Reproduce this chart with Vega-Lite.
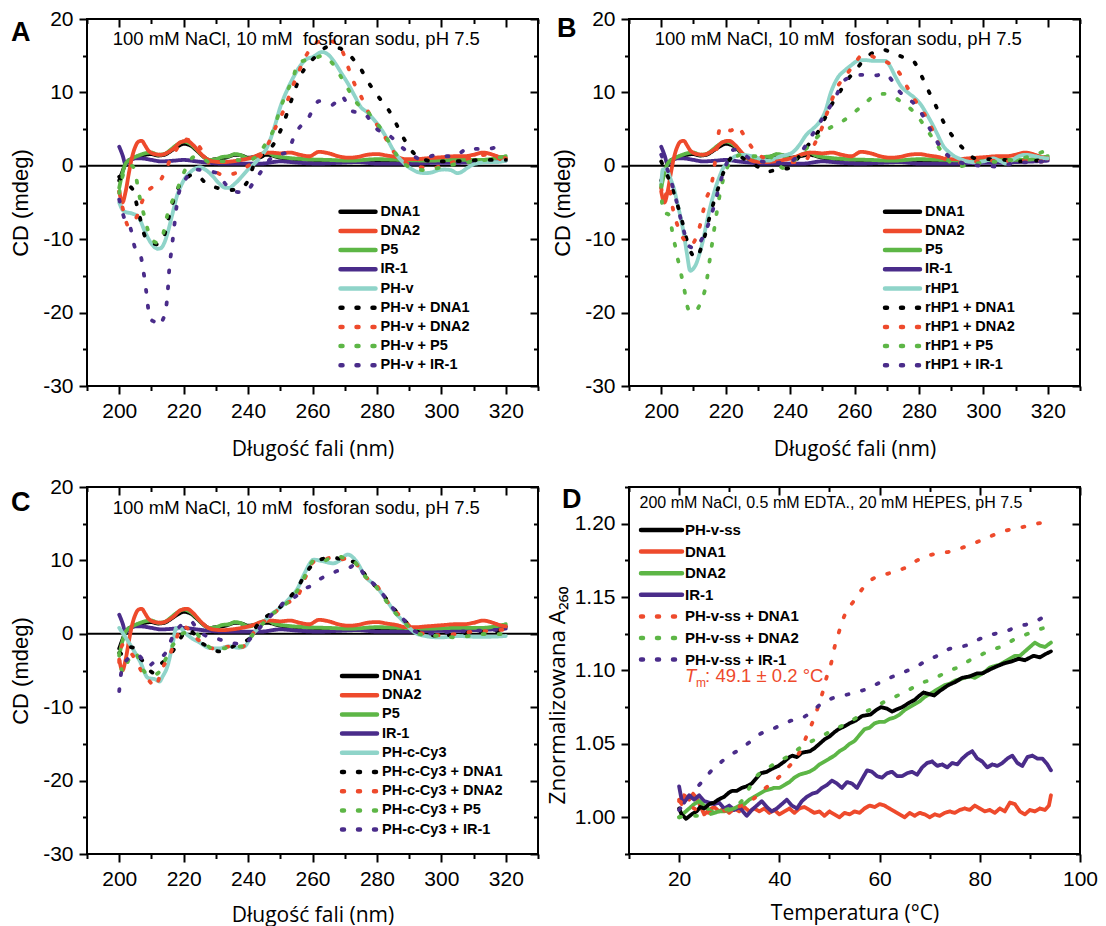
{
"$schema":"https://vega.github.io/schema/vega-lite/v6.json",
"background":"white",
"padding":{"left":8,"top":7,"right":2,"bottom":2},
"columns":2,
"spacing":{"row":101,"column":91},
"bounds":"flush",
"resolve":{"scale":{"color":"independent","strokeDash":"independent"},"legend":{"color":"independent","strokeDash":"independent"}},
"config":{
 "view":{"stroke":"black","strokeWidth":2},
 "axis":{"grid":false,"domain":false,"tickColor":"black","tickWidth":2,"labelFont":"Liberation Sans","labelFontSize":21,"labelColor":"black","labelPadding":6,"labelFlush":false,"labelOverlap":false,"titleColor":"black","titleFontWeight":"normal"}
},
"datasets":{
"ctrl":[
{"s":"DNA1","x":200,"y":-2},{"s":"DNA1","x":201,"y":-0.8},{"s":"DNA1","x":202,"y":0.3},{"s":"DNA1","x":204,"y":1},{"s":"DNA1","x":206,"y":1.3},{"s":"DNA1","x":208,"y":1.5},{"s":"DNA1","x":210,"y":1.6},{"s":"DNA1","x":212,"y":1.4},{"s":"DNA1","x":214,"y":1.5},{"s":"DNA1","x":216,"y":2},{"s":"DNA1","x":218,"y":2.6},{"s":"DNA1","x":220,"y":3},{"s":"DNA1","x":222,"y":2.8},{"s":"DNA1","x":224,"y":2.1},{"s":"DNA1","x":226,"y":1.3},{"s":"DNA1","x":228,"y":0.8},{"s":"DNA1","x":230,"y":0.9},{"s":"DNA1","x":233,"y":1.1},{"s":"DNA1","x":236,"y":1.5},{"s":"DNA1","x":238,"y":1.4},{"s":"DNA1","x":240,"y":1.1},{"s":"DNA1","x":243,"y":1.3},{"s":"DNA1","x":246,"y":1.5},{"s":"DNA1","x":250,"y":1.1},{"s":"DNA1","x":255,"y":0.9},{"s":"DNA1","x":260,"y":0.8},{"s":"DNA1","x":265,"y":0.7},{"s":"DNA1","x":270,"y":0.6},{"s":"DNA1","x":275,"y":0.6},{"s":"DNA1","x":280,"y":0.7},{"s":"DNA1","x":285,"y":0.7},{"s":"DNA1","x":290,"y":0.6},{"s":"DNA1","x":295,"y":0.5},{"s":"DNA1","x":300,"y":0.6},{"s":"DNA1","x":305,"y":0.6},{"s":"DNA1","x":310,"y":0.7},{"s":"DNA1","x":315,"y":0.7},{"s":"DNA1","x":320,"y":1},
{"s":"IR-1","x":200,"y":2.6},{"s":"IR-1","x":201,"y":1.5},{"s":"IR-1","x":202,"y":0.2},{"s":"IR-1","x":203,"y":0.6},{"s":"IR-1","x":205,"y":1},{"s":"IR-1","x":207,"y":1},{"s":"IR-1","x":210,"y":0.8},{"s":"IR-1","x":213,"y":0.6},{"s":"IR-1","x":217,"y":0.7},{"s":"IR-1","x":220,"y":0.8},{"s":"IR-1","x":224,"y":0.6},{"s":"IR-1","x":228,"y":0.4},{"s":"IR-1","x":232,"y":0.3},{"s":"IR-1","x":238,"y":0.3},{"s":"IR-1","x":244,"y":0.3},{"s":"IR-1","x":250,"y":0.6},{"s":"IR-1","x":256,"y":0.4},{"s":"IR-1","x":262,"y":0.3},{"s":"IR-1","x":268,"y":0.4},{"s":"IR-1","x":274,"y":0.5},{"s":"IR-1","x":280,"y":0.3},{"s":"IR-1","x":286,"y":0.3},{"s":"IR-1","x":292,"y":0.3},{"s":"IR-1","x":298,"y":0.4},{"s":"IR-1","x":304,"y":0.4},{"s":"IR-1","x":310,"y":0.5},{"s":"IR-1","x":316,"y":0.6},{"s":"IR-1","x":320,"y":0.7},
{"s":"P5","x":200,"y":-3},{"s":"P5","x":201,"y":-1},{"s":"P5","x":202,"y":0.3},{"s":"P5","x":204,"y":1},{"s":"P5","x":206,"y":1.4},{"s":"P5","x":208,"y":1.7},{"s":"P5","x":210,"y":1.8},{"s":"P5","x":212,"y":1.5},{"s":"P5","x":214,"y":1.6},{"s":"P5","x":216,"y":2.2},{"s":"P5","x":218,"y":2.9},{"s":"P5","x":220,"y":3.3},{"s":"P5","x":222,"y":3},{"s":"P5","x":224,"y":2.2},{"s":"P5","x":226,"y":1.3},{"s":"P5","x":228,"y":0.8},{"s":"P5","x":230,"y":0.9},{"s":"P5","x":232,"y":1.2},{"s":"P5","x":234,"y":1.3},{"s":"P5","x":236,"y":1.6},{"s":"P5","x":238,"y":1.4},{"s":"P5","x":240,"y":1},{"s":"P5","x":242,"y":1.2},{"s":"P5","x":244,"y":1.6},{"s":"P5","x":246,"y":1.8},{"s":"P5","x":248,"y":1.4},{"s":"P5","x":252,"y":1.1},{"s":"P5","x":258,"y":0.9},{"s":"P5","x":265,"y":0.8},{"s":"P5","x":272,"y":0.7},{"s":"P5","x":280,"y":0.9},{"s":"P5","x":288,"y":0.8},{"s":"P5","x":296,"y":0.7},{"s":"P5","x":304,"y":0.8},{"s":"P5","x":312,"y":0.8},{"s":"P5","x":318,"y":1.1},{"s":"P5","x":320,"y":1.3},
{"s":"DNA2","x":200,"y":-3.5},{"s":"DNA2","x":201,"y":-5},{"s":"DNA2","x":202,"y":-3.5},{"s":"DNA2","x":203,"y":-1},{"s":"DNA2","x":204,"y":1.2},{"s":"DNA2","x":205,"y":2.6},{"s":"DNA2","x":206,"y":3.3},{"s":"DNA2","x":207,"y":3.4},{"s":"DNA2","x":208,"y":2.8},{"s":"DNA2","x":209,"y":2.1},{"s":"DNA2","x":211,"y":1.6},{"s":"DNA2","x":213,"y":1.5},{"s":"DNA2","x":215,"y":1.8},{"s":"DNA2","x":217,"y":2.4},{"s":"DNA2","x":219,"y":3.2},{"s":"DNA2","x":221,"y":3.4},{"s":"DNA2","x":223,"y":2.8},{"s":"DNA2","x":225,"y":1.8},{"s":"DNA2","x":227,"y":1},{"s":"DNA2","x":229,"y":0.6},{"s":"DNA2","x":232,"y":0.5},{"s":"DNA2","x":235,"y":0.6},{"s":"DNA2","x":238,"y":0.8},{"s":"DNA2","x":241,"y":1.1},{"s":"DNA2","x":244,"y":1.6},{"s":"DNA2","x":247,"y":1.8},{"s":"DNA2","x":250,"y":1.7},{"s":"DNA2","x":253,"y":1.8},{"s":"DNA2","x":256,"y":1.5},{"s":"DNA2","x":259,"y":1.3},{"s":"DNA2","x":262,"y":1.9},{"s":"DNA2","x":265,"y":1.7},{"s":"DNA2","x":268,"y":1.3},{"s":"DNA2","x":271,"y":1.1},{"s":"DNA2","x":274,"y":1.2},{"s":"DNA2","x":277,"y":1.5},{"s":"DNA2","x":280,"y":1.6},{"s":"DNA2","x":283,"y":1.4},{"s":"DNA2","x":286,"y":1.2},{"s":"DNA2","x":289,"y":0.9},{"s":"DNA2","x":292,"y":0.9},{"s":"DNA2","x":295,"y":1},{"s":"DNA2","x":298,"y":1.1},{"s":"DNA2","x":301,"y":1.2},{"s":"DNA2","x":304,"y":1.3},{"s":"DNA2","x":307,"y":1.3},{"s":"DNA2","x":310,"y":1.5},{"s":"DNA2","x":313,"y":1.8},{"s":"DNA2","x":316,"y":1.5},{"s":"DNA2","x":318,"y":1.2},{"s":"DNA2","x":320,"y":1}
],
"A":[
{"s":"PH-v","x":200,"y":-5},{"s":"PH-v","x":201,"y":-6},{"s":"PH-v","x":202,"y":-6.3},{"s":"PH-v","x":204,"y":-6.5},{"s":"PH-v","x":206,"y":-7},{"s":"PH-v","x":208,"y":-9},{"s":"PH-v","x":210,"y":-10.6},{"s":"PH-v","x":212,"y":-11.3},{"s":"PH-v","x":213,"y":-11.2},{"s":"PH-v","x":214,"y":-10.5},{"s":"PH-v","x":215,"y":-9.2},{"s":"PH-v","x":216,"y":-7.5},{"s":"PH-v","x":217,"y":-5.7},{"s":"PH-v","x":218,"y":-4},{"s":"PH-v","x":219,"y":-2.9},{"s":"PH-v","x":220,"y":-2},{"s":"PH-v","x":222,"y":-0.9},{"s":"PH-v","x":224,"y":-0.3},{"s":"PH-v","x":225,"y":-0.2},{"s":"PH-v","x":227,"y":-0.6},{"s":"PH-v","x":229,"y":-1.4},{"s":"PH-v","x":231,"y":-2.4},{"s":"PH-v","x":233,"y":-3},{"s":"PH-v","x":234,"y":-3},{"s":"PH-v","x":236,"y":-2.4},{"s":"PH-v","x":238,"y":-1.5},{"s":"PH-v","x":240,"y":-0.5},{"s":"PH-v","x":242,"y":0.3},{"s":"PH-v","x":244,"y":1.3},{"s":"PH-v","x":246,"y":2.6},{"s":"PH-v","x":248,"y":5},{"s":"PH-v","x":250,"y":8},{"s":"PH-v","x":252,"y":10.2},{"s":"PH-v","x":254,"y":12},{"s":"PH-v","x":256,"y":13.5},{"s":"PH-v","x":258,"y":14.5},{"s":"PH-v","x":260,"y":14.8},{"s":"PH-v","x":263,"y":15.5},{"s":"PH-v","x":265,"y":15.1},{"s":"PH-v","x":267,"y":14},{"s":"PH-v","x":269,"y":12.6},{"s":"PH-v","x":271,"y":11.2},{"s":"PH-v","x":273,"y":9.6},{"s":"PH-v","x":275,"y":8},{"s":"PH-v","x":277,"y":7.3},{"s":"PH-v","x":279,"y":6.3},{"s":"PH-v","x":281,"y":5.2},{"s":"PH-v","x":283,"y":3.8},{"s":"PH-v","x":285,"y":2.2},{"s":"PH-v","x":287,"y":1},{"s":"PH-v","x":289,"y":0.1},{"s":"PH-v","x":291,"y":-0.5},{"s":"PH-v","x":293,"y":-0.9},{"s":"PH-v","x":295,"y":-1},{"s":"PH-v","x":297,"y":-0.9},{"s":"PH-v","x":299,"y":-0.6},{"s":"PH-v","x":301,"y":-0.5},{"s":"PH-v","x":303,"y":-0.6},{"s":"PH-v","x":305,"y":-1},{"s":"PH-v","x":306,"y":-0.9},{"s":"PH-v","x":308,"y":-0.3},{"s":"PH-v","x":310,"y":0.2},{"s":"PH-v","x":312,"y":0.4},{"s":"PH-v","x":314,"y":0.5},{"s":"PH-v","x":317,"y":0.5},{"s":"PH-v","x":320,"y":0.7},
{"s":"PH-v + DNA1","x":200,"y":-1.5},{"s":"PH-v + DNA1","x":202,"y":-2.5},{"s":"PH-v + DNA1","x":204,"y":-3.1},{"s":"PH-v + DNA1","x":206,"y":-6.3},{"s":"PH-v + DNA1","x":208,"y":-9.6},{"s":"PH-v + DNA1","x":210,"y":-10.5},{"s":"PH-v + DNA1","x":212,"y":-10.7},{"s":"PH-v + DNA1","x":214,"y":-9.5},{"s":"PH-v + DNA1","x":215,"y":-7.7},{"s":"PH-v + DNA1","x":217,"y":-4.5},{"s":"PH-v + DNA1","x":219,"y":-2.5},{"s":"PH-v + DNA1","x":220.5,"y":-2.1},{"s":"PH-v + DNA1","x":222,"y":-1.3},{"s":"PH-v + DNA1","x":224,"y":-1.2},{"s":"PH-v + DNA1","x":226.5,"y":-2.2},{"s":"PH-v + DNA1","x":229,"y":-2.8},{"s":"PH-v + DNA1","x":232.5,"y":-3.2},{"s":"PH-v + DNA1","x":235,"y":-3.3},{"s":"PH-v + DNA1","x":238,"y":-3},{"s":"PH-v + DNA1","x":240,"y":-2},{"s":"PH-v + DNA1","x":242,"y":0.3},{"s":"PH-v + DNA1","x":245,"y":1.5},{"s":"PH-v + DNA1","x":248,"y":3},{"s":"PH-v + DNA1","x":251,"y":5.8},{"s":"PH-v + DNA1","x":253.5,"y":9},{"s":"PH-v + DNA1","x":256,"y":12},{"s":"PH-v + DNA1","x":258.5,"y":13.8},{"s":"PH-v + DNA1","x":261,"y":14.9},{"s":"PH-v + DNA1","x":263,"y":15.8},{"s":"PH-v + DNA1","x":265.5,"y":16.3},{"s":"PH-v + DNA1","x":268.5,"y":16},{"s":"PH-v + DNA1","x":270.5,"y":15.5},{"s":"PH-v + DNA1","x":272.5,"y":14.6},{"s":"PH-v + DNA1","x":275,"y":13.2},{"s":"PH-v + DNA1","x":277,"y":11.6},{"s":"PH-v + DNA1","x":279,"y":10.3},{"s":"PH-v + DNA1","x":281,"y":9.1},{"s":"PH-v + DNA1","x":283,"y":8},{"s":"PH-v + DNA1","x":285,"y":6.6},{"s":"PH-v + DNA1","x":287,"y":4.8},{"s":"PH-v + DNA1","x":288.5,"y":3.6},{"s":"PH-v + DNA1","x":290.5,"y":2.2},{"s":"PH-v + DNA1","x":292.5,"y":1.3},{"s":"PH-v + DNA1","x":295,"y":0.8},{"s":"PH-v + DNA1","x":298,"y":0.6},{"s":"PH-v + DNA1","x":303,"y":0.6},{"s":"PH-v + DNA1","x":308,"y":0.7},{"s":"PH-v + DNA1","x":314,"y":0.8},{"s":"PH-v + DNA1","x":320,"y":0.8},
{"s":"PH-v + DNA2","x":200,"y":-3.5},{"s":"PH-v + DNA2","x":201.5,"y":-6.5},{"s":"PH-v + DNA2","x":202.8,"y":-8.2},{"s":"PH-v + DNA2","x":204,"y":-7.8},{"s":"PH-v + DNA2","x":205.5,"y":-6.9},{"s":"PH-v + DNA2","x":207,"y":-5},{"s":"PH-v + DNA2","x":208,"y":-3.9},{"s":"PH-v + DNA2","x":210,"y":-3},{"s":"PH-v + DNA2","x":212,"y":-2.5},{"s":"PH-v + DNA2","x":214,"y":-1},{"s":"PH-v + DNA2","x":215.5,"y":0.5},{"s":"PH-v + DNA2","x":218,"y":2.4},{"s":"PH-v + DNA2","x":220,"y":3.6},{"s":"PH-v + DNA2","x":222,"y":3.5},{"s":"PH-v + DNA2","x":224,"y":3.1},{"s":"PH-v + DNA2","x":226,"y":1.8},{"s":"PH-v + DNA2","x":228,"y":0.2},{"s":"PH-v + DNA2","x":230,"y":-0.8},{"s":"PH-v + DNA2","x":233,"y":-1.3},{"s":"PH-v + DNA2","x":236,"y":-1},{"s":"PH-v + DNA2","x":239,"y":-0.3},{"s":"PH-v + DNA2","x":241,"y":0.3},{"s":"PH-v + DNA2","x":243.7,"y":1.3},{"s":"PH-v + DNA2","x":246,"y":2.8},{"s":"PH-v + DNA2","x":248.7,"y":5.4},{"s":"PH-v + DNA2","x":250.5,"y":7},{"s":"PH-v + DNA2","x":252,"y":8.6},{"s":"PH-v + DNA2","x":254,"y":11},{"s":"PH-v + DNA2","x":256,"y":13.1},{"s":"PH-v + DNA2","x":258,"y":15},{"s":"PH-v + DNA2","x":260.4,"y":16.5},{"s":"PH-v + DNA2","x":263,"y":17},{"s":"PH-v + DNA2","x":265.4,"y":17},{"s":"PH-v + DNA2","x":268.7,"y":16.1},{"s":"PH-v + DNA2","x":271,"y":13.5},{"s":"PH-v + DNA2","x":273,"y":11.2},{"s":"PH-v + DNA2","x":274.8,"y":9.7},{"s":"PH-v + DNA2","x":277.5,"y":7.2},{"s":"PH-v + DNA2","x":280,"y":5.6},{"s":"PH-v + DNA2","x":282,"y":4.3},{"s":"PH-v + DNA2","x":284.7,"y":2.2},{"s":"PH-v + DNA2","x":287,"y":1},{"s":"PH-v + DNA2","x":290.3,"y":0.2},{"s":"PH-v + DNA2","x":294,"y":-0.2},{"s":"PH-v + DNA2","x":297.5,"y":-0.3},{"s":"PH-v + DNA2","x":300,"y":0},{"s":"PH-v + DNA2","x":303,"y":0.4},{"s":"PH-v + DNA2","x":308,"y":0.9},{"s":"PH-v + DNA2","x":314,"y":1.5},{"s":"PH-v + DNA2","x":317,"y":1.2},{"s":"PH-v + DNA2","x":320,"y":0.4},
{"s":"PH-v + P5","x":200,"y":-3.7},{"s":"PH-v + P5","x":201,"y":-1.5},{"s":"PH-v + P5","x":202,"y":-0.5},{"s":"PH-v + P5","x":204,"y":0},{"s":"PH-v + P5","x":205,"y":-1},{"s":"PH-v + P5","x":206,"y":-3.5},{"s":"PH-v + P5","x":207.8,"y":-6.9},{"s":"PH-v + P5","x":210,"y":-10},{"s":"PH-v + P5","x":212,"y":-10.5},{"s":"PH-v + P5","x":213.3,"y":-9.8},{"s":"PH-v + P5","x":215,"y":-6.6},{"s":"PH-v + P5","x":217.7,"y":-3.6},{"s":"PH-v + P5","x":220.5,"y":-0.5},{"s":"PH-v + P5","x":222,"y":0.8},{"s":"PH-v + P5","x":224,"y":1.3},{"s":"PH-v + P5","x":226,"y":1},{"s":"PH-v + P5","x":228,"y":0.5},{"s":"PH-v + P5","x":232,"y":0.6},{"s":"PH-v + P5","x":236,"y":0.8},{"s":"PH-v + P5","x":240,"y":0.7},{"s":"PH-v + P5","x":243,"y":1.5},{"s":"PH-v + P5","x":246,"y":3.4},{"s":"PH-v + P5","x":248,"y":5},{"s":"PH-v + P5","x":250,"y":7.8},{"s":"PH-v + P5","x":252,"y":10},{"s":"PH-v + P5","x":254,"y":12},{"s":"PH-v + P5","x":255.5,"y":14},{"s":"PH-v + P5","x":258,"y":14.4},{"s":"PH-v + P5","x":261,"y":14.7},{"s":"PH-v + P5","x":263,"y":15},{"s":"PH-v + P5","x":265,"y":14.5},{"s":"PH-v + P5","x":267,"y":13.5},{"s":"PH-v + P5","x":269,"y":12},{"s":"PH-v + P5","x":271,"y":10.5},{"s":"PH-v + P5","x":273,"y":9},{"s":"PH-v + P5","x":275,"y":8},{"s":"PH-v + P5","x":276.5,"y":7.7},{"s":"PH-v + P5","x":279,"y":6.2},{"s":"PH-v + P5","x":281,"y":5.2},{"s":"PH-v + P5","x":283,"y":3.8},{"s":"PH-v + P5","x":285,"y":2.2},{"s":"PH-v + P5","x":287,"y":1},{"s":"PH-v + P5","x":289,"y":0.1},{"s":"PH-v + P5","x":291,"y":-0.3},{"s":"PH-v + P5","x":295,"y":-0.6},{"s":"PH-v + P5","x":298,"y":-0.4},{"s":"PH-v + P5","x":302,"y":0},{"s":"PH-v + P5","x":305,"y":0.3},{"s":"PH-v + P5","x":310,"y":0.6},{"s":"PH-v + P5","x":315,"y":0.9},{"s":"PH-v + P5","x":320,"y":1.3},
{"s":"PH-v + IR-1","x":200,"y":-4.6},{"s":"PH-v + IR-1","x":201.7,"y":-7.3},{"s":"PH-v + IR-1","x":203.5,"y":-8.5},{"s":"PH-v + IR-1","x":205,"y":-11.3},{"s":"PH-v + IR-1","x":206.5,"y":-12},{"s":"PH-v + IR-1","x":207.5,"y":-14.3},{"s":"PH-v + IR-1","x":208.5,"y":-17.5},{"s":"PH-v + IR-1","x":209.5,"y":-20.8},{"s":"PH-v + IR-1","x":211,"y":-21.3},{"s":"PH-v + IR-1","x":212,"y":-21.8},{"s":"PH-v + IR-1","x":213.5,"y":-21},{"s":"PH-v + IR-1","x":214.5,"y":-19.5},{"s":"PH-v + IR-1","x":215,"y":-17.5},{"s":"PH-v + IR-1","x":215.5,"y":-14.3},{"s":"PH-v + IR-1","x":216.4,"y":-10.9},{"s":"PH-v + IR-1","x":217.2,"y":-7.8},{"s":"PH-v + IR-1","x":218.3,"y":-4.1},{"s":"PH-v + IR-1","x":220.5,"y":-1.9},{"s":"PH-v + IR-1","x":223.8,"y":-0.5},{"s":"PH-v + IR-1","x":227,"y":-0.7},{"s":"PH-v + IR-1","x":230.5,"y":-1},{"s":"PH-v + IR-1","x":233,"y":-2.5},{"s":"PH-v + IR-1","x":235,"y":-3.4},{"s":"PH-v + IR-1","x":238,"y":-3.6},{"s":"PH-v + IR-1","x":240,"y":-3.3},{"s":"PH-v + IR-1","x":242,"y":-2},{"s":"PH-v + IR-1","x":243.7,"y":-1},{"s":"PH-v + IR-1","x":246,"y":0.5},{"s":"PH-v + IR-1","x":248.7,"y":1.5},{"s":"PH-v + IR-1","x":252,"y":1.8},{"s":"PH-v + IR-1","x":254.8,"y":4.5},{"s":"PH-v + IR-1","x":256.5,"y":5.5},{"s":"PH-v + IR-1","x":258.7,"y":6.5},{"s":"PH-v + IR-1","x":260.5,"y":8},{"s":"PH-v + IR-1","x":262,"y":8.8},{"s":"PH-v + IR-1","x":266,"y":8.3},{"s":"PH-v + IR-1","x":269,"y":9.5},{"s":"PH-v + IR-1","x":272,"y":7.5},{"s":"PH-v + IR-1","x":276,"y":7.1},{"s":"PH-v + IR-1","x":280,"y":5},{"s":"PH-v + IR-1","x":282,"y":4.4},{"s":"PH-v + IR-1","x":284.2,"y":4},{"s":"PH-v + IR-1","x":286.5,"y":3},{"s":"PH-v + IR-1","x":289.2,"y":2},{"s":"PH-v + IR-1","x":291.5,"y":1.3},{"s":"PH-v + IR-1","x":293.6,"y":0.9},{"s":"PH-v + IR-1","x":296,"y":1.2},{"s":"PH-v + IR-1","x":298.6,"y":1.5},{"s":"PH-v + IR-1","x":301,"y":1.3},{"s":"PH-v + IR-1","x":304,"y":1.3},{"s":"PH-v + IR-1","x":306,"y":1.8},{"s":"PH-v + IR-1","x":308.5,"y":2.5},{"s":"PH-v + IR-1","x":311,"y":2.3},{"s":"PH-v + IR-1","x":314,"y":2.3},{"s":"PH-v + IR-1","x":317,"y":2.5},{"s":"PH-v + IR-1","x":320,"y":2.7}
],
"B":[
{"s":"rHP1","x":200,"y":-2.5},{"s":"rHP1","x":200.5,"y":-0.5},{"s":"rHP1","x":201.5,"y":-0.5},{"s":"rHP1","x":203,"y":-1.9},{"s":"rHP1","x":204,"y":-3.2},{"s":"rHP1","x":205,"y":-5.1},{"s":"rHP1","x":206,"y":-7},{"s":"rHP1","x":207,"y":-9.2},{"s":"rHP1","x":208,"y":-12},{"s":"rHP1","x":209,"y":-14.3},{"s":"rHP1","x":210,"y":-14},{"s":"rHP1","x":211,"y":-13.2},{"s":"rHP1","x":212,"y":-11.8},{"s":"rHP1","x":213,"y":-10.1},{"s":"rHP1","x":214,"y":-8},{"s":"rHP1","x":215,"y":-6},{"s":"rHP1","x":216,"y":-4.3},{"s":"rHP1","x":217,"y":-2.8},{"s":"rHP1","x":218,"y":-1.6},{"s":"rHP1","x":219,"y":-0.5},{"s":"rHP1","x":221,"y":0.6},{"s":"rHP1","x":223,"y":1.3},{"s":"rHP1","x":225,"y":1.5},{"s":"rHP1","x":227,"y":1.4},{"s":"rHP1","x":229,"y":1.2},{"s":"rHP1","x":231,"y":0.9},{"s":"rHP1","x":233,"y":0.7},{"s":"rHP1","x":235,"y":0.9},{"s":"rHP1","x":237,"y":1.3},{"s":"rHP1","x":239,"y":1.5},{"s":"rHP1","x":241,"y":1.9},{"s":"rHP1","x":243,"y":2.9},{"s":"rHP1","x":245,"y":4.2},{"s":"rHP1","x":247,"y":5},{"s":"rHP1","x":249,"y":5.9},{"s":"rHP1","x":251,"y":7.5},{"s":"rHP1","x":252.6,"y":9.9},{"s":"rHP1","x":254.8,"y":12},{"s":"rHP1","x":257,"y":13},{"s":"rHP1","x":259,"y":13.7},{"s":"rHP1","x":261,"y":14.3},{"s":"rHP1","x":263,"y":14.4},{"s":"rHP1","x":266,"y":14.3},{"s":"rHP1","x":269.6,"y":14.3},{"s":"rHP1","x":271,"y":13.6},{"s":"rHP1","x":272.5,"y":12.3},{"s":"rHP1","x":274.5,"y":10.8},{"s":"rHP1","x":276.5,"y":10},{"s":"rHP1","x":278.5,"y":9.3},{"s":"rHP1","x":280.5,"y":8.4},{"s":"rHP1","x":282.2,"y":7.2},{"s":"rHP1","x":284,"y":5.8},{"s":"rHP1","x":285.5,"y":4.5},{"s":"rHP1","x":287.7,"y":2.6},{"s":"rHP1","x":289.5,"y":1.8},{"s":"rHP1","x":291,"y":1.3},{"s":"rHP1","x":293,"y":0.9},{"s":"rHP1","x":295,"y":0.6},{"s":"rHP1","x":297,"y":0.5},{"s":"rHP1","x":300,"y":0.6},{"s":"rHP1","x":303,"y":1},{"s":"rHP1","x":305,"y":0.7},{"s":"rHP1","x":307,"y":0.3},{"s":"rHP1","x":309,"y":0.8},{"s":"rHP1","x":311,"y":1.3},{"s":"rHP1","x":313,"y":1.5},{"s":"rHP1","x":316,"y":1.3},{"s":"rHP1","x":318,"y":1.1},{"s":"rHP1","x":320,"y":1},
{"s":"rHP1 + DNA1","x":200,"y":0.6},{"s":"rHP1 + DNA1","x":201.6,"y":-1},{"s":"rHP1 + DNA1","x":203,"y":-2.5},{"s":"rHP1 + DNA1","x":204.4,"y":-4.4},{"s":"rHP1 + DNA1","x":206.4,"y":-7.4},{"s":"rHP1 + DNA1","x":208.2,"y":-10.5},{"s":"rHP1 + DNA1","x":209.5,"y":-12},{"s":"rHP1 + DNA1","x":211,"y":-12.6},{"s":"rHP1 + DNA1","x":212.3,"y":-11.3},{"s":"rHP1 + DNA1","x":213.5,"y":-9.6},{"s":"rHP1 + DNA1","x":215.3,"y":-6.5},{"s":"rHP1 + DNA1","x":217.5,"y":-3.3},{"s":"rHP1 + DNA1","x":219.7,"y":-0.5},{"s":"rHP1 + DNA1","x":221.5,"y":1},{"s":"rHP1 + DNA1","x":223,"y":1.5},{"s":"rHP1 + DNA1","x":226.3,"y":0.8},{"s":"rHP1 + DNA1","x":229.5,"y":0},{"s":"rHP1 + DNA1","x":232.9,"y":-0.8},{"s":"rHP1 + DNA1","x":236,"y":-0.5},{"s":"rHP1 + DNA1","x":240,"y":-0.3},{"s":"rHP1 + DNA1","x":242,"y":0.8},{"s":"rHP1 + DNA1","x":244.4,"y":2.2},{"s":"rHP1 + DNA1","x":246.5,"y":3.3},{"s":"rHP1 + DNA1","x":248.8,"y":4.7},{"s":"rHP1 + DNA1","x":250.5,"y":6.2},{"s":"rHP1 + DNA1","x":252.6,"y":8.1},{"s":"rHP1 + DNA1","x":255.9,"y":10.4},{"s":"rHP1 + DNA1","x":258,"y":11.8},{"s":"rHP1 + DNA1","x":260.5,"y":13.1},{"s":"rHP1 + DNA1","x":263,"y":14.5},{"s":"rHP1 + DNA1","x":266.8,"y":15.6},{"s":"rHP1 + DNA1","x":269,"y":15.8},{"s":"rHP1 + DNA1","x":271.2,"y":15.5},{"s":"rHP1 + DNA1","x":275,"y":14.8},{"s":"rHP1 + DNA1","x":278.4,"y":14.2},{"s":"rHP1 + DNA1","x":280,"y":13},{"s":"rHP1 + DNA1","x":281.6,"y":11.5},{"s":"rHP1 + DNA1","x":283.2,"y":10},{"s":"rHP1 + DNA1","x":284.9,"y":8.5},{"s":"rHP1 + DNA1","x":286.5,"y":7},{"s":"rHP1 + DNA1","x":288.2,"y":5.5},{"s":"rHP1 + DNA1","x":290.5,"y":4},{"s":"rHP1 + DNA1","x":292.6,"y":2.9},{"s":"rHP1 + DNA1","x":295,"y":1.8},{"s":"rHP1 + DNA1","x":297.5,"y":1},{"s":"rHP1 + DNA1","x":301,"y":0.9},{"s":"rHP1 + DNA1","x":304.7,"y":0.9},{"s":"rHP1 + DNA1","x":308,"y":0.7},{"s":"rHP1 + DNA1","x":312.3,"y":0.6},{"s":"rHP1 + DNA1","x":316,"y":0.7},{"s":"rHP1 + DNA1","x":319.5,"y":0.8},
{"s":"rHP1 + DNA2","x":200,"y":-3},{"s":"rHP1 + DNA2","x":200.9,"y":-4.6},{"s":"rHP1 + DNA2","x":202.2,"y":-2.8},{"s":"rHP1 + DNA2","x":203.8,"y":-6.2},{"s":"rHP1 + DNA2","x":206,"y":-9.2},{"s":"rHP1 + DNA2","x":207.5,"y":-10.3},{"s":"rHP1 + DNA2","x":209.3,"y":-10.8},{"s":"rHP1 + DNA2","x":210.8,"y":-9.8},{"s":"rHP1 + DNA2","x":212,"y":-8.2},{"s":"rHP1 + DNA2","x":213.7,"y":-4.9},{"s":"rHP1 + DNA2","x":215.9,"y":-1.9},{"s":"rHP1 + DNA2","x":217,"y":1.5},{"s":"rHP1 + DNA2","x":218.1,"y":4.9},{"s":"rHP1 + DNA2","x":220,"y":5.3},{"s":"rHP1 + DNA2","x":221.5,"y":4.8},{"s":"rHP1 + DNA2","x":223.6,"y":5.4},{"s":"rHP1 + DNA2","x":225.5,"y":4.3},{"s":"rHP1 + DNA2","x":228,"y":2.6},{"s":"rHP1 + DNA2","x":230,"y":1.6},{"s":"rHP1 + DNA2","x":233,"y":0.9},{"s":"rHP1 + DNA2","x":235,"y":0.7},{"s":"rHP1 + DNA2","x":238.4,"y":0.4},{"s":"rHP1 + DNA2","x":241,"y":0.5},{"s":"rHP1 + DNA2","x":244.9,"y":0.8},{"s":"rHP1 + DNA2","x":246.5,"y":2},{"s":"rHP1 + DNA2","x":248.2,"y":3.5},{"s":"rHP1 + DNA2","x":250,"y":5.3},{"s":"rHP1 + DNA2","x":251.5,"y":7.2},{"s":"rHP1 + DNA2","x":253,"y":9},{"s":"rHP1 + DNA2","x":254.8,"y":10.8},{"s":"rHP1 + DNA2","x":257.5,"y":12.4},{"s":"rHP1 + DNA2","x":260,"y":13.9},{"s":"rHP1 + DNA2","x":262.5,"y":15.1},{"s":"rHP1 + DNA2","x":265,"y":15},{"s":"rHP1 + DNA2","x":267,"y":14.6},{"s":"rHP1 + DNA2","x":269.6,"y":14.2},{"s":"rHP1 + DNA2","x":272,"y":13.6},{"s":"rHP1 + DNA2","x":274,"y":12.6},{"s":"rHP1 + DNA2","x":276,"y":11},{"s":"rHP1 + DNA2","x":278.4,"y":9.2},{"s":"rHP1 + DNA2","x":280.5,"y":7.8},{"s":"rHP1 + DNA2","x":282.7,"y":6.3},{"s":"rHP1 + DNA2","x":284.5,"y":4.6},{"s":"rHP1 + DNA2","x":286,"y":3.1},{"s":"rHP1 + DNA2","x":288,"y":1.8},{"s":"rHP1 + DNA2","x":290.5,"y":0.6},{"s":"rHP1 + DNA2","x":294,"y":0.4},{"s":"rHP1 + DNA2","x":298,"y":0.6},{"s":"rHP1 + DNA2","x":302,"y":0.7},{"s":"rHP1 + DNA2","x":306,"y":0.6},{"s":"rHP1 + DNA2","x":310,"y":0.7},{"s":"rHP1 + DNA2","x":314,"y":0.8},{"s":"rHP1 + DNA2","x":318,"y":0.6},{"s":"rHP1 + DNA2","x":320,"y":0.4},
{"s":"rHP1 + P5","x":200,"y":-2.6},{"s":"rHP1 + P5","x":200.5,"y":-6.4},{"s":"rHP1 + P5","x":202.2,"y":-6.6},{"s":"rHP1 + P5","x":203.8,"y":-9.8},{"s":"rHP1 + P5","x":205.3,"y":-13},{"s":"rHP1 + P5","x":206.9,"y":-16.2},{"s":"rHP1 + P5","x":208.5,"y":-19.6},{"s":"rHP1 + P5","x":210,"y":-20},{"s":"rHP1 + P5","x":212,"y":-18.9},{"s":"rHP1 + P5","x":214,"y":-16},{"s":"rHP1 + P5","x":215.1,"y":-12.7},{"s":"rHP1 + P5","x":216.2,"y":-9.4},{"s":"rHP1 + P5","x":217.3,"y":-6.2},{"s":"rHP1 + P5","x":218.6,"y":-3},{"s":"rHP1 + P5","x":220,"y":-0.8},{"s":"rHP1 + P5","x":222,"y":0.8},{"s":"rHP1 + P5","x":225,"y":1.5},{"s":"rHP1 + P5","x":228,"y":1.3},{"s":"rHP1 + P5","x":231.8,"y":1.3},{"s":"rHP1 + P5","x":235,"y":1},{"s":"rHP1 + P5","x":237.8,"y":-0.3},{"s":"rHP1 + P5","x":240,"y":0.3},{"s":"rHP1 + P5","x":242.7,"y":1.3},{"s":"rHP1 + P5","x":246,"y":2.8},{"s":"rHP1 + P5","x":249.9,"y":4.5},{"s":"rHP1 + P5","x":252.5,"y":5.2},{"s":"rHP1 + P5","x":255.3,"y":5.8},{"s":"rHP1 + P5","x":258,"y":6.6},{"s":"rHP1 + P5","x":260.8,"y":7.6},{"s":"rHP1 + P5","x":263.5,"y":8.6},{"s":"rHP1 + P5","x":266.8,"y":9.7},{"s":"rHP1 + P5","x":269,"y":9.8},{"s":"rHP1 + P5","x":271.8,"y":9.5},{"s":"rHP1 + P5","x":274.5,"y":8.7},{"s":"rHP1 + P5","x":277.8,"y":7.6},{"s":"rHP1 + P5","x":280,"y":6.5},{"s":"rHP1 + P5","x":282.2,"y":5.1},{"s":"rHP1 + P5","x":284.5,"y":3.6},{"s":"rHP1 + P5","x":286.6,"y":2.2},{"s":"rHP1 + P5","x":289,"y":0.8},{"s":"rHP1 + P5","x":292,"y":-0.1},{"s":"rHP1 + P5","x":295,"y":0.1},{"s":"rHP1 + P5","x":299.2,"y":0.4},{"s":"rHP1 + P5","x":305.2,"y":0.6},{"s":"rHP1 + P5","x":311.8,"y":1},{"s":"rHP1 + P5","x":316,"y":1.5},{"s":"rHP1 + P5","x":320,"y":2.2},
{"s":"rHP1 + IR-1","x":200,"y":1.5},{"s":"rHP1 + IR-1","x":201.5,"y":0},{"s":"rHP1 + IR-1","x":202.7,"y":-1.5},{"s":"rHP1 + IR-1","x":204.6,"y":-4.6},{"s":"rHP1 + IR-1","x":206.4,"y":-7.8},{"s":"rHP1 + IR-1","x":208.8,"y":-11},{"s":"rHP1 + IR-1","x":210.5,"y":-11.2},{"s":"rHP1 + IR-1","x":212.6,"y":-10},{"s":"rHP1 + IR-1","x":215.3,"y":-7.1},{"s":"rHP1 + IR-1","x":217.3,"y":-4},{"s":"rHP1 + IR-1","x":219.2,"y":-1},{"s":"rHP1 + IR-1","x":220.8,"y":0.8},{"s":"rHP1 + IR-1","x":222.5,"y":2.2},{"s":"rHP1 + IR-1","x":225,"y":1.8},{"s":"rHP1 + IR-1","x":227.4,"y":1},{"s":"rHP1 + IR-1","x":231,"y":0.6},{"s":"rHP1 + IR-1","x":235,"y":0.4},{"s":"rHP1 + IR-1","x":240,"y":0.6},{"s":"rHP1 + IR-1","x":243,"y":1.6},{"s":"rHP1 + IR-1","x":246,"y":3.6},{"s":"rHP1 + IR-1","x":248,"y":5},{"s":"rHP1 + IR-1","x":250.4,"y":6.7},{"s":"rHP1 + IR-1","x":253.7,"y":9},{"s":"rHP1 + IR-1","x":257,"y":11.7},{"s":"rHP1 + IR-1","x":260,"y":12.2},{"s":"rHP1 + IR-1","x":262.5,"y":12.4},{"s":"rHP1 + IR-1","x":266,"y":12.3},{"s":"rHP1 + IR-1","x":269.6,"y":12.5},{"s":"rHP1 + IR-1","x":272,"y":11.4},{"s":"rHP1 + IR-1","x":274,"y":10.1},{"s":"rHP1 + IR-1","x":276.5,"y":9.2},{"s":"rHP1 + IR-1","x":278.9,"y":8.3},{"s":"rHP1 + IR-1","x":281,"y":7},{"s":"rHP1 + IR-1","x":282.7,"y":5.6},{"s":"rHP1 + IR-1","x":284.7,"y":4},{"s":"rHP1 + IR-1","x":286.6,"y":2.6},{"s":"rHP1 + IR-1","x":289,"y":1.4},{"s":"rHP1 + IR-1","x":292,"y":0.6},{"s":"rHP1 + IR-1","x":297,"y":0.1},{"s":"rHP1 + IR-1","x":304.7,"y":-0.1},{"s":"rHP1 + IR-1","x":310,"y":0.4},{"s":"rHP1 + IR-1","x":315,"y":0.5},{"s":"rHP1 + IR-1","x":320,"y":0.6}
],
"C":[
{"s":"PH-c-Cy3","x":200,"y":0.8},{"s":"PH-c-Cy3","x":202,"y":-0.5},{"s":"PH-c-Cy3","x":204,"y":-1.9},{"s":"PH-c-Cy3","x":206.6,"y":-3.9},{"s":"PH-c-Cy3","x":208.9,"y":-6},{"s":"PH-c-Cy3","x":211.1,"y":-6.2},{"s":"PH-c-Cy3","x":212.5,"y":-6.5},{"s":"PH-c-Cy3","x":213.5,"y":-5.8},{"s":"PH-c-Cy3","x":215,"y":-4.4},{"s":"PH-c-Cy3","x":216.6,"y":-1.4},{"s":"PH-c-Cy3","x":217.7,"y":0.8},{"s":"PH-c-Cy3","x":219,"y":0.8},{"s":"PH-c-Cy3","x":220,"y":0.3},{"s":"PH-c-Cy3","x":222.2,"y":-0.5},{"s":"PH-c-Cy3","x":225,"y":-1.2},{"s":"PH-c-Cy3","x":227.7,"y":-1.9},{"s":"PH-c-Cy3","x":231,"y":-2},{"s":"PH-c-Cy3","x":234,"y":-1.7},{"s":"PH-c-Cy3","x":237.1,"y":-1.9},{"s":"PH-c-Cy3","x":239,"y":-1.7},{"s":"PH-c-Cy3","x":241,"y":-0.3},{"s":"PH-c-Cy3","x":243.7,"y":1},{"s":"PH-c-Cy3","x":246.5,"y":2.4},{"s":"PH-c-Cy3","x":249.8,"y":3.5},{"s":"PH-c-Cy3","x":252.6,"y":4.7},{"s":"PH-c-Cy3","x":255.4,"y":6.2},{"s":"PH-c-Cy3","x":257.6,"y":8.3},{"s":"PH-c-Cy3","x":260.4,"y":10.1},{"s":"PH-c-Cy3","x":263.1,"y":9.9},{"s":"PH-c-Cy3","x":266.4,"y":9.6},{"s":"PH-c-Cy3","x":268.5,"y":10},{"s":"PH-c-Cy3","x":270.9,"y":10.8},{"s":"PH-c-Cy3","x":273.6,"y":9.9},{"s":"PH-c-Cy3","x":276.4,"y":7.8},{"s":"PH-c-Cy3","x":279.7,"y":6.5},{"s":"PH-c-Cy3","x":282.5,"y":4.9},{"s":"PH-c-Cy3","x":285.3,"y":3.1},{"s":"PH-c-Cy3","x":288.6,"y":1.5},{"s":"PH-c-Cy3","x":292,"y":0.1},{"s":"PH-c-Cy3","x":295,"y":-0.3},{"s":"PH-c-Cy3","x":299.7,"y":-0.5},{"s":"PH-c-Cy3","x":305,"y":-0.3},{"s":"PH-c-Cy3","x":310,"y":-0.4},{"s":"PH-c-Cy3","x":315,"y":-0.4},{"s":"PH-c-Cy3","x":320,"y":-0.3},
{"s":"PH-c-Cy3 + DNA1","x":200,"y":-2.6},{"s":"PH-c-Cy3 + DNA1","x":201.5,"y":-2.8},{"s":"PH-c-Cy3 + DNA1","x":203,"y":-1.8},{"s":"PH-c-Cy3 + DNA1","x":204.4,"y":-1.9},{"s":"PH-c-Cy3 + DNA1","x":206,"y":-3},{"s":"PH-c-Cy3 + DNA1","x":208.3,"y":-4.2},{"s":"PH-c-Cy3 + DNA1","x":210.5,"y":-5.3},{"s":"PH-c-Cy3 + DNA1","x":212.2,"y":-4.4},{"s":"PH-c-Cy3 + DNA1","x":214.5,"y":-3.5},{"s":"PH-c-Cy3 + DNA1","x":216.6,"y":-2.4},{"s":"PH-c-Cy3 + DNA1","x":218.5,"y":-1},{"s":"PH-c-Cy3 + DNA1","x":220,"y":0},{"s":"PH-c-Cy3 + DNA1","x":221.6,"y":0.6},{"s":"PH-c-Cy3 + DNA1","x":223,"y":0.1},{"s":"PH-c-Cy3 + DNA1","x":224.9,"y":-1},{"s":"PH-c-Cy3 + DNA1","x":228,"y":-1.8},{"s":"PH-c-Cy3 + DNA1","x":231,"y":-2.4},{"s":"PH-c-Cy3 + DNA1","x":234,"y":-2},{"s":"PH-c-Cy3 + DNA1","x":237.6,"y":-1.2},{"s":"PH-c-Cy3 + DNA1","x":240,"y":-0.8},{"s":"PH-c-Cy3 + DNA1","x":241.5,"y":0.2},{"s":"PH-c-Cy3 + DNA1","x":243.7,"y":1.7},{"s":"PH-c-Cy3 + DNA1","x":246.5,"y":2.6},{"s":"PH-c-Cy3 + DNA1","x":249.8,"y":3.6},{"s":"PH-c-Cy3 + DNA1","x":252.6,"y":4.8},{"s":"PH-c-Cy3 + DNA1","x":255.4,"y":6.3},{"s":"PH-c-Cy3 + DNA1","x":257.6,"y":8},{"s":"PH-c-Cy3 + DNA1","x":260.4,"y":9.6},{"s":"PH-c-Cy3 + DNA1","x":263.1,"y":10.2},{"s":"PH-c-Cy3 + DNA1","x":266.4,"y":10.4},{"s":"PH-c-Cy3 + DNA1","x":268.5,"y":10.2},{"s":"PH-c-Cy3 + DNA1","x":270.9,"y":10},{"s":"PH-c-Cy3 + DNA1","x":273.6,"y":9.6},{"s":"PH-c-Cy3 + DNA1","x":276.4,"y":8},{"s":"PH-c-Cy3 + DNA1","x":279.7,"y":6.4},{"s":"PH-c-Cy3 + DNA1","x":282.5,"y":5},{"s":"PH-c-Cy3 + DNA1","x":285.3,"y":3.4},{"s":"PH-c-Cy3 + DNA1","x":288.6,"y":1.8},{"s":"PH-c-Cy3 + DNA1","x":292,"y":0.4},{"s":"PH-c-Cy3 + DNA1","x":295,"y":0},{"s":"PH-c-Cy3 + DNA1","x":299.7,"y":-0.3},{"s":"PH-c-Cy3 + DNA1","x":305,"y":0},{"s":"PH-c-Cy3 + DNA1","x":310,"y":0.2},{"s":"PH-c-Cy3 + DNA1","x":315,"y":0.3},{"s":"PH-c-Cy3 + DNA1","x":320,"y":0.5},
{"s":"PH-c-Cy3 + DNA2","x":200,"y":-3.9},{"s":"PH-c-Cy3 + DNA2","x":201,"y":-1.5},{"s":"PH-c-Cy3 + DNA2","x":202.5,"y":-2},{"s":"PH-c-Cy3 + DNA2","x":205,"y":-3.5},{"s":"PH-c-Cy3 + DNA2","x":207.2,"y":-5.3},{"s":"PH-c-Cy3 + DNA2","x":209.5,"y":-6.5},{"s":"PH-c-Cy3 + DNA2","x":211.1,"y":-7.3},{"s":"PH-c-Cy3 + DNA2","x":213.3,"y":-4.8},{"s":"PH-c-Cy3 + DNA2","x":215.5,"y":-3},{"s":"PH-c-Cy3 + DNA2","x":217.5,"y":-1},{"s":"PH-c-Cy3 + DNA2","x":219.4,"y":1},{"s":"PH-c-Cy3 + DNA2","x":221,"y":0.8},{"s":"PH-c-Cy3 + DNA2","x":223,"y":-0.2},{"s":"PH-c-Cy3 + DNA2","x":226,"y":-1.3},{"s":"PH-c-Cy3 + DNA2","x":229,"y":-2},{"s":"PH-c-Cy3 + DNA2","x":232,"y":-1.9},{"s":"PH-c-Cy3 + DNA2","x":235,"y":-1.7},{"s":"PH-c-Cy3 + DNA2","x":238,"y":-1.8},{"s":"PH-c-Cy3 + DNA2","x":240,"y":-1},{"s":"PH-c-Cy3 + DNA2","x":242,"y":0.3},{"s":"PH-c-Cy3 + DNA2","x":244,"y":1.3},{"s":"PH-c-Cy3 + DNA2","x":247,"y":2.4},{"s":"PH-c-Cy3 + DNA2","x":250,"y":3.5},{"s":"PH-c-Cy3 + DNA2","x":253,"y":4.4},{"s":"PH-c-Cy3 + DNA2","x":255,"y":4.8},{"s":"PH-c-Cy3 + DNA2","x":257.6,"y":7.5},{"s":"PH-c-Cy3 + DNA2","x":260.4,"y":9.8},{"s":"PH-c-Cy3 + DNA2","x":263,"y":10},{"s":"PH-c-Cy3 + DNA2","x":266,"y":10.4},{"s":"PH-c-Cy3 + DNA2","x":268.5,"y":10.1},{"s":"PH-c-Cy3 + DNA2","x":271,"y":10.3},{"s":"PH-c-Cy3 + DNA2","x":273.6,"y":9.5},{"s":"PH-c-Cy3 + DNA2","x":276.4,"y":7.8},{"s":"PH-c-Cy3 + DNA2","x":279.7,"y":6.7},{"s":"PH-c-Cy3 + DNA2","x":282.5,"y":4.8},{"s":"PH-c-Cy3 + DNA2","x":285.3,"y":3.3},{"s":"PH-c-Cy3 + DNA2","x":288.6,"y":1.8},{"s":"PH-c-Cy3 + DNA2","x":292,"y":0.3},{"s":"PH-c-Cy3 + DNA2","x":295,"y":0},{"s":"PH-c-Cy3 + DNA2","x":300,"y":-0.2},{"s":"PH-c-Cy3 + DNA2","x":305,"y":0},{"s":"PH-c-Cy3 + DNA2","x":310,"y":0.3},{"s":"PH-c-Cy3 + DNA2","x":315,"y":0.4},{"s":"PH-c-Cy3 + DNA2","x":320,"y":0.6},
{"s":"PH-c-Cy3 + P5","x":200,"y":-2.6},{"s":"PH-c-Cy3 + P5","x":201.1,"y":-5.3},{"s":"PH-c-Cy3 + P5","x":203,"y":-3.5},{"s":"PH-c-Cy3 + P5","x":205,"y":-2.6},{"s":"PH-c-Cy3 + P5","x":207.2,"y":-4.8},{"s":"PH-c-Cy3 + P5","x":210,"y":-5.7},{"s":"PH-c-Cy3 + P5","x":212.2,"y":-5.3},{"s":"PH-c-Cy3 + P5","x":213.9,"y":-3.9},{"s":"PH-c-Cy3 + P5","x":216,"y":-2},{"s":"PH-c-Cy3 + P5","x":218,"y":-0.8},{"s":"PH-c-Cy3 + P5","x":220,"y":0.1},{"s":"PH-c-Cy3 + P5","x":223.3,"y":0.2},{"s":"PH-c-Cy3 + P5","x":226,"y":-1},{"s":"PH-c-Cy3 + P5","x":229,"y":-2},{"s":"PH-c-Cy3 + P5","x":232,"y":-2},{"s":"PH-c-Cy3 + P5","x":235,"y":-1.8},{"s":"PH-c-Cy3 + P5","x":238,"y":-1.7},{"s":"PH-c-Cy3 + P5","x":240,"y":-1},{"s":"PH-c-Cy3 + P5","x":242,"y":0.2},{"s":"PH-c-Cy3 + P5","x":244,"y":1.1},{"s":"PH-c-Cy3 + P5","x":247,"y":2.5},{"s":"PH-c-Cy3 + P5","x":250,"y":3.5},{"s":"PH-c-Cy3 + P5","x":253,"y":4.6},{"s":"PH-c-Cy3 + P5","x":256,"y":6.4},{"s":"PH-c-Cy3 + P5","x":258,"y":8.2},{"s":"PH-c-Cy3 + P5","x":260.5,"y":10},{"s":"PH-c-Cy3 + P5","x":263,"y":9.9},{"s":"PH-c-Cy3 + P5","x":266,"y":10.4},{"s":"PH-c-Cy3 + P5","x":267.5,"y":10.6},{"s":"PH-c-Cy3 + P5","x":270,"y":10.3},{"s":"PH-c-Cy3 + P5","x":273,"y":9.8},{"s":"PH-c-Cy3 + P5","x":276,"y":8},{"s":"PH-c-Cy3 + P5","x":279,"y":6.8},{"s":"PH-c-Cy3 + P5","x":282,"y":5},{"s":"PH-c-Cy3 + P5","x":285,"y":3.2},{"s":"PH-c-Cy3 + P5","x":288,"y":1.8},{"s":"PH-c-Cy3 + P5","x":291,"y":0.5},{"s":"PH-c-Cy3 + P5","x":295,"y":-0.2},{"s":"PH-c-Cy3 + P5","x":300,"y":-0.3},{"s":"PH-c-Cy3 + P5","x":305,"y":-0.5},{"s":"PH-c-Cy3 + P5","x":310,"y":-0.2},{"s":"PH-c-Cy3 + P5","x":315,"y":0},{"s":"PH-c-Cy3 + P5","x":320,"y":-0.1},
{"s":"PH-c-Cy3 + IR-1","x":200,"y":-7.8},{"s":"PH-c-Cy3 + IR-1","x":201,"y":-4.4},{"s":"PH-c-Cy3 + IR-1","x":202.5,"y":-3.5},{"s":"PH-c-Cy3 + IR-1","x":203.9,"y":-3},{"s":"PH-c-Cy3 + IR-1","x":206,"y":-3},{"s":"PH-c-Cy3 + IR-1","x":208.9,"y":-4.4},{"s":"PH-c-Cy3 + IR-1","x":211.6,"y":-3.5},{"s":"PH-c-Cy3 + IR-1","x":214.4,"y":-2.6},{"s":"PH-c-Cy3 + IR-1","x":216.5,"y":-0.5},{"s":"PH-c-Cy3 + IR-1","x":218.8,"y":1},{"s":"PH-c-Cy3 + IR-1","x":220.5,"y":1.5},{"s":"PH-c-Cy3 + IR-1","x":222.2,"y":1.7},{"s":"PH-c-Cy3 + IR-1","x":224,"y":0.8},{"s":"PH-c-Cy3 + IR-1","x":227,"y":-0.3},{"s":"PH-c-Cy3 + IR-1","x":230,"y":-0.6},{"s":"PH-c-Cy3 + IR-1","x":232.7,"y":-1},{"s":"PH-c-Cy3 + IR-1","x":235.5,"y":-1.3},{"s":"PH-c-Cy3 + IR-1","x":238.8,"y":-1.4},{"s":"PH-c-Cy3 + IR-1","x":241,"y":-0.5},{"s":"PH-c-Cy3 + IR-1","x":243,"y":0.5},{"s":"PH-c-Cy3 + IR-1","x":246,"y":2},{"s":"PH-c-Cy3 + IR-1","x":249,"y":3.3},{"s":"PH-c-Cy3 + IR-1","x":252,"y":4.6},{"s":"PH-c-Cy3 + IR-1","x":254.5,"y":5},{"s":"PH-c-Cy3 + IR-1","x":257,"y":6},{"s":"PH-c-Cy3 + IR-1","x":259.8,"y":6.6},{"s":"PH-c-Cy3 + IR-1","x":262.5,"y":7.5},{"s":"PH-c-Cy3 + IR-1","x":265.3,"y":8.1},{"s":"PH-c-Cy3 + IR-1","x":268,"y":8.6},{"s":"PH-c-Cy3 + IR-1","x":271.4,"y":9},{"s":"PH-c-Cy3 + IR-1","x":273.6,"y":9.5},{"s":"PH-c-Cy3 + IR-1","x":276.4,"y":7.8},{"s":"PH-c-Cy3 + IR-1","x":279.7,"y":6.5},{"s":"PH-c-Cy3 + IR-1","x":282.5,"y":5},{"s":"PH-c-Cy3 + IR-1","x":285.3,"y":3.3},{"s":"PH-c-Cy3 + IR-1","x":288.6,"y":1.8},{"s":"PH-c-Cy3 + IR-1","x":292,"y":0.3},{"s":"PH-c-Cy3 + IR-1","x":295,"y":0},{"s":"PH-c-Cy3 + IR-1","x":300,"y":0.2},{"s":"PH-c-Cy3 + IR-1","x":305,"y":0.3},{"s":"PH-c-Cy3 + IR-1","x":310,"y":0.4},{"s":"PH-c-Cy3 + IR-1","x":315,"y":0.5},{"s":"PH-c-Cy3 + IR-1","x":320,"y":0.6}
],
"Ds":[
{"s":"DNA1","t":20,"a":1.012},{"s":"DNA1","t":20.5,"a":1.009},{"s":"DNA1","t":21,"a":1.015},{"s":"DNA1","t":22,"a":1.012},{"s":"DNA1","t":22.8,"a":1.016},{"s":"DNA1","t":23.5,"a":1.013},{"s":"DNA1","t":24.2,"a":1.008},{"s":"DNA1","t":25,"a":1.002},{"s":"DNA1","t":26,"a":1.005},{"s":"DNA1","t":27,"a":1.007},{"s":"DNA1","t":28,"a":1.004},{"s":"DNA1","t":29,"a":1.006},{"s":"DNA1","t":30,"a":1.003},{"s":"DNA1","t":31,"a":1.006},{"s":"DNA1","t":32,"a":1.004},{"s":"DNA1","t":33,"a":1.007},{"s":"DNA1","t":34,"a":1.004},{"s":"DNA1","t":35,"a":1.006},{"s":"DNA1","t":36,"a":1.004},{"s":"DNA1","t":37,"a":1.006},{"s":"DNA1","t":38,"a":1.003},{"s":"DNA1","t":39,"a":1.005},{"s":"DNA1","t":40,"a":1.002},{"s":"DNA1","t":41,"a":1.004},{"s":"DNA1","t":42,"a":1.006},{"s":"DNA1","t":43,"a":1.003},{"s":"DNA1","t":44,"a":1.006},{"s":"DNA1","t":45,"a":1.007},{"s":"DNA1","t":46,"a":1.005},{"s":"DNA1","t":47,"a":1.003},{"s":"DNA1","t":48,"a":1.004},{"s":"DNA1","t":49,"a":1.001},{"s":"DNA1","t":50,"a":1.004},{"s":"DNA1","t":51,"a":1.002},{"s":"DNA1","t":52,"a":1.0},{"s":"DNA1","t":53,"a":1.003},{"s":"DNA1","t":54,"a":1.002},{"s":"DNA1","t":55,"a":1.004},{"s":"DNA1","t":56,"a":1.003},{"s":"DNA1","t":57,"a":1.006},{"s":"DNA1","t":58,"a":1.008},{"s":"DNA1","t":59,"a":1.007},{"s":"DNA1","t":60,"a":1.009},{"s":"DNA1","t":61,"a":1.008},{"s":"DNA1","t":62,"a":1.006},{"s":"DNA1","t":63,"a":1.004},{"s":"DNA1","t":64,"a":1.002},{"s":"DNA1","t":65,"a":1.0},{"s":"DNA1","t":66,"a":1.003},{"s":"DNA1","t":67,"a":1.001},{"s":"DNA1","t":68,"a":1.003},{"s":"DNA1","t":69,"a":1.002},{"s":"DNA1","t":70,"a":1.0},{"s":"DNA1","t":71,"a":1.002},{"s":"DNA1","t":72,"a":1.001},{"s":"DNA1","t":73,"a":1.003},{"s":"DNA1","t":74,"a":1.004},{"s":"DNA1","t":75,"a":1.003},{"s":"DNA1","t":76,"a":1.005},{"s":"DNA1","t":77,"a":1.006},{"s":"DNA1","t":78,"a":1.005},{"s":"DNA1","t":79,"a":1.008},{"s":"DNA1","t":80,"a":1.006},{"s":"DNA1","t":81,"a":1.004},{"s":"DNA1","t":82,"a":1.005},{"s":"DNA1","t":83,"a":1.003},{"s":"DNA1","t":84,"a":1.006},{"s":"DNA1","t":85,"a":1.004},{"s":"DNA1","t":86,"a":1.01},{"s":"DNA1","t":87,"a":1.009},{"s":"DNA1","t":88,"a":1.004},{"s":"DNA1","t":89,"a":1.002},{"s":"DNA1","t":90,"a":1.005},{"s":"DNA1","t":91,"a":1.004},{"s":"DNA1","t":92,"a":1.006},{"s":"DNA1","t":93,"a":1.005},{"s":"DNA1","t":93.8,"a":1.008},{"s":"DNA1","t":94.2,"a":1.015},
{"s":"IR-1","t":20,"a":1.021},{"s":"IR-1","t":20.5,"a":1.012},{"s":"IR-1","t":21,"a":1.01},{"s":"IR-1","t":22,"a":1.015},{"s":"IR-1","t":23,"a":1.012},{"s":"IR-1","t":24,"a":1.015},{"s":"IR-1","t":25,"a":1.011},{"s":"IR-1","t":26,"a":1.01},{"s":"IR-1","t":27,"a":1.009},{"s":"IR-1","t":28,"a":1.01},{"s":"IR-1","t":29,"a":1.006},{"s":"IR-1","t":30,"a":1.008},{"s":"IR-1","t":31,"a":1.005},{"s":"IR-1","t":32,"a":1.007},{"s":"IR-1","t":33,"a":1.003},{"s":"IR-1","t":33.5,"a":1.001},{"s":"IR-1","t":34.5,"a":1.005},{"s":"IR-1","t":35.5,"a":1.008},{"s":"IR-1","t":36.5,"a":1.011},{"s":"IR-1","t":37.5,"a":1.007},{"s":"IR-1","t":38.5,"a":1.004},{"s":"IR-1","t":39.5,"a":1.006},{"s":"IR-1","t":40.5,"a":1.009},{"s":"IR-1","t":41.5,"a":1.012},{"s":"IR-1","t":42.5,"a":1.008},{"s":"IR-1","t":43.5,"a":1.006},{"s":"IR-1","t":44.5,"a":1.011},{"s":"IR-1","t":45.5,"a":1.014},{"s":"IR-1","t":46.5,"a":1.016},{"s":"IR-1","t":47.5,"a":1.017},{"s":"IR-1","t":48.5,"a":1.02},{"s":"IR-1","t":49.5,"a":1.022},{"s":"IR-1","t":50.5,"a":1.025},{"s":"IR-1","t":51.5,"a":1.023},{"s":"IR-1","t":52.5,"a":1.02},{"s":"IR-1","t":53.5,"a":1.024},{"s":"IR-1","t":54.5,"a":1.023},{"s":"IR-1","t":55.5,"a":1.02},{"s":"IR-1","t":56.5,"a":1.026},{"s":"IR-1","t":57.5,"a":1.032},{"s":"IR-1","t":58.5,"a":1.031},{"s":"IR-1","t":59.5,"a":1.028},{"s":"IR-1","t":60.5,"a":1.027},{"s":"IR-1","t":61.5,"a":1.03},{"s":"IR-1","t":62.5,"a":1.031},{"s":"IR-1","t":63.5,"a":1.028},{"s":"IR-1","t":64.5,"a":1.028},{"s":"IR-1","t":65.5,"a":1.03},{"s":"IR-1","t":66.5,"a":1.031},{"s":"IR-1","t":67.5,"a":1.029},{"s":"IR-1","t":68.5,"a":1.034},{"s":"IR-1","t":69.5,"a":1.037},{"s":"IR-1","t":70.5,"a":1.038},{"s":"IR-1","t":71.5,"a":1.035},{"s":"IR-1","t":72.5,"a":1.036},{"s":"IR-1","t":73.5,"a":1.034},{"s":"IR-1","t":74.5,"a":1.037},{"s":"IR-1","t":75.5,"a":1.036},{"s":"IR-1","t":76.5,"a":1.04},{"s":"IR-1","t":77.5,"a":1.043},{"s":"IR-1","t":78.5,"a":1.045},{"s":"IR-1","t":79.5,"a":1.04},{"s":"IR-1","t":80.5,"a":1.038},{"s":"IR-1","t":81.5,"a":1.034},{"s":"IR-1","t":82.5,"a":1.036},{"s":"IR-1","t":83.5,"a":1.035},{"s":"IR-1","t":84.5,"a":1.037},{"s":"IR-1","t":85.5,"a":1.04},{"s":"IR-1","t":86.5,"a":1.042},{"s":"IR-1","t":87.5,"a":1.037},{"s":"IR-1","t":88.5,"a":1.035},{"s":"IR-1","t":89.5,"a":1.041},{"s":"IR-1","t":90.5,"a":1.042},{"s":"IR-1","t":91.5,"a":1.04},{"s":"IR-1","t":92.5,"a":1.04},{"s":"IR-1","t":93.5,"a":1.036},{"s":"IR-1","t":94.2,"a":1.032},
{"s":"DNA2","t":20,"a":1.0},{"s":"DNA2","t":21,"a":1.003},{"s":"DNA2","t":22,"a":1.006},{"s":"DNA2","t":23,"a":1.009},{"s":"DNA2","t":24,"a":1.011},{"s":"DNA2","t":25,"a":1.008},{"s":"DNA2","t":26,"a":1.005},{"s":"DNA2","t":27,"a":1.003},{"s":"DNA2","t":28,"a":1.004},{"s":"DNA2","t":29,"a":1.004},{"s":"DNA2","t":30,"a":1.005},{"s":"DNA2","t":31,"a":1.006},{"s":"DNA2","t":32,"a":1.008},{"s":"DNA2","t":33,"a":1.009},{"s":"DNA2","t":34,"a":1.012},{"s":"DNA2","t":35,"a":1.014},{"s":"DNA2","t":36,"a":1.016},{"s":"DNA2","t":37,"a":1.018},{"s":"DNA2","t":38,"a":1.019},{"s":"DNA2","t":39,"a":1.02},{"s":"DNA2","t":40,"a":1.02},{"s":"DNA2","t":41,"a":1.022},{"s":"DNA2","t":42,"a":1.024},{"s":"DNA2","t":43,"a":1.027},{"s":"DNA2","t":44,"a":1.029},{"s":"DNA2","t":45,"a":1.03},{"s":"DNA2","t":46,"a":1.031},{"s":"DNA2","t":47,"a":1.033},{"s":"DNA2","t":48,"a":1.036},{"s":"DNA2","t":49,"a":1.038},{"s":"DNA2","t":50,"a":1.04},{"s":"DNA2","t":51,"a":1.042},{"s":"DNA2","t":52,"a":1.045},{"s":"DNA2","t":53,"a":1.047},{"s":"DNA2","t":54,"a":1.05},{"s":"DNA2","t":55,"a":1.052},{"s":"DNA2","t":56,"a":1.056},{"s":"DNA2","t":57,"a":1.06},{"s":"DNA2","t":58,"a":1.061},{"s":"DNA2","t":59,"a":1.064},{"s":"DNA2","t":60,"a":1.065},{"s":"DNA2","t":61,"a":1.065},{"s":"DNA2","t":62,"a":1.067},{"s":"DNA2","t":63,"a":1.068},{"s":"DNA2","t":64,"a":1.07},{"s":"DNA2","t":65,"a":1.073},{"s":"DNA2","t":66,"a":1.075},{"s":"DNA2","t":67,"a":1.077},{"s":"DNA2","t":68,"a":1.079},{"s":"DNA2","t":69,"a":1.082},{"s":"DNA2","t":70,"a":1.084},{"s":"DNA2","t":71,"a":1.086},{"s":"DNA2","t":72,"a":1.088},{"s":"DNA2","t":73,"a":1.09},{"s":"DNA2","t":74,"a":1.091},{"s":"DNA2","t":75,"a":1.093},{"s":"DNA2","t":76,"a":1.094},{"s":"DNA2","t":77,"a":1.095},{"s":"DNA2","t":78,"a":1.096},{"s":"DNA2","t":79,"a":1.095},{"s":"DNA2","t":80,"a":1.097},{"s":"DNA2","t":81,"a":1.099},{"s":"DNA2","t":82,"a":1.102},{"s":"DNA2","t":83,"a":1.103},{"s":"DNA2","t":84,"a":1.104},{"s":"DNA2","t":85,"a":1.106},{"s":"DNA2","t":86,"a":1.108},{"s":"DNA2","t":87,"a":1.11},{"s":"DNA2","t":88,"a":1.11},{"s":"DNA2","t":89,"a":1.113},{"s":"DNA2","t":90,"a":1.116},{"s":"DNA2","t":91,"a":1.119},{"s":"DNA2","t":92,"a":1.117},{"s":"DNA2","t":93,"a":1.116},{"s":"DNA2","t":94.2,"a":1.119},
{"s":"PH-v-ss","t":20,"a":1.006},{"s":"PH-v-ss","t":20.5,"a":1.002},{"s":"PH-v-ss","t":21.4,"a":0.999},{"s":"PH-v-ss","t":22.5,"a":1.002},{"s":"PH-v-ss","t":23.5,"a":1.004},{"s":"PH-v-ss","t":24.2,"a":1.007},{"s":"PH-v-ss","t":25,"a":1.006},{"s":"PH-v-ss","t":26,"a":1.009},{"s":"PH-v-ss","t":27,"a":1.01},{"s":"PH-v-ss","t":27.8,"a":1.012},{"s":"PH-v-ss","t":29,"a":1.014},{"s":"PH-v-ss","t":30,"a":1.017},{"s":"PH-v-ss","t":30.6,"a":1.018},{"s":"PH-v-ss","t":31.5,"a":1.018},{"s":"PH-v-ss","t":32.5,"a":1.02},{"s":"PH-v-ss","t":33.4,"a":1.021},{"s":"PH-v-ss","t":34.5,"a":1.023},{"s":"PH-v-ss","t":35.5,"a":1.027},{"s":"PH-v-ss","t":36.3,"a":1.03},{"s":"PH-v-ss","t":37.5,"a":1.031},{"s":"PH-v-ss","t":38.5,"a":1.033},{"s":"PH-v-ss","t":39.8,"a":1.035},{"s":"PH-v-ss","t":41,"a":1.038},{"s":"PH-v-ss","t":42,"a":1.041},{"s":"PH-v-ss","t":42.6,"a":1.042},{"s":"PH-v-ss","t":43.5,"a":1.041},{"s":"PH-v-ss","t":44.5,"a":1.044},{"s":"PH-v-ss","t":46.1,"a":1.045},{"s":"PH-v-ss","t":47,"a":1.047},{"s":"PH-v-ss","t":48,"a":1.05},{"s":"PH-v-ss","t":49,"a":1.053},{"s":"PH-v-ss","t":50,"a":1.055},{"s":"PH-v-ss","t":51,"a":1.058},{"s":"PH-v-ss","t":51.8,"a":1.06},{"s":"PH-v-ss","t":53,"a":1.062},{"s":"PH-v-ss","t":54,"a":1.064},{"s":"PH-v-ss","t":55.3,"a":1.066},{"s":"PH-v-ss","t":56.5,"a":1.069},{"s":"PH-v-ss","t":58.2,"a":1.07},{"s":"PH-v-ss","t":59.3,"a":1.073},{"s":"PH-v-ss","t":60.3,"a":1.075},{"s":"PH-v-ss","t":61.5,"a":1.074},{"s":"PH-v-ss","t":62.5,"a":1.072},{"s":"PH-v-ss","t":63.1,"a":1.073},{"s":"PH-v-ss","t":64.5,"a":1.075},{"s":"PH-v-ss","t":65.9,"a":1.078},{"s":"PH-v-ss","t":67,"a":1.08},{"s":"PH-v-ss","t":68,"a":1.083},{"s":"PH-v-ss","t":68.8,"a":1.085},{"s":"PH-v-ss","t":69.8,"a":1.084},{"s":"PH-v-ss","t":70.9,"a":1.083},{"s":"PH-v-ss","t":72,"a":1.086},{"s":"PH-v-ss","t":73.7,"a":1.09},{"s":"PH-v-ss","t":75,"a":1.092},{"s":"PH-v-ss","t":76.5,"a":1.095},{"s":"PH-v-ss","t":78,"a":1.096},{"s":"PH-v-ss","t":79.4,"a":1.098},{"s":"PH-v-ss","t":80.5,"a":1.098},{"s":"PH-v-ss","t":82.2,"a":1.101},{"s":"PH-v-ss","t":83.5,"a":1.103},{"s":"PH-v-ss","t":85,"a":1.105},{"s":"PH-v-ss","t":86.2,"a":1.106},{"s":"PH-v-ss","t":87.8,"a":1.108},{"s":"PH-v-ss","t":89,"a":1.107},{"s":"PH-v-ss","t":90.7,"a":1.11},{"s":"PH-v-ss","t":92,"a":1.109},{"s":"PH-v-ss","t":93,"a":1.111},{"s":"PH-v-ss","t":94.2,"a":1.113}
],
"Dd":[
{"s":"PH-v-ss + DNA1","t":20,"a":1.011},{"s":"PH-v-ss + DNA1","t":22,"a":1.008},{"s":"PH-v-ss + DNA1","t":25,"a":1.003},{"s":"PH-v-ss + DNA1","t":28,"a":1.004},{"s":"PH-v-ss + DNA1","t":31,"a":1.006},{"s":"PH-v-ss + DNA1","t":33,"a":1.009},{"s":"PH-v-ss + DNA1","t":35,"a":1.013},{"s":"PH-v-ss + DNA1","t":36.6,"a":1.018},{"s":"PH-v-ss + DNA1","t":38,"a":1.022},{"s":"PH-v-ss + DNA1","t":39.8,"a":1.027},{"s":"PH-v-ss + DNA1","t":41.5,"a":1.033},{"s":"PH-v-ss + DNA1","t":43,"a":1.039},{"s":"PH-v-ss + DNA1","t":44.3,"a":1.046},{"s":"PH-v-ss + DNA1","t":45.4,"a":1.055},{"s":"PH-v-ss + DNA1","t":46.3,"a":1.062},{"s":"PH-v-ss + DNA1","t":47.2,"a":1.07},{"s":"PH-v-ss + DNA1","t":48,"a":1.078},{"s":"PH-v-ss + DNA1","t":48.8,"a":1.087},{"s":"PH-v-ss + DNA1","t":49.4,"a":1.095},{"s":"PH-v-ss + DNA1","t":50.2,"a":1.103},{"s":"PH-v-ss + DNA1","t":51.1,"a":1.117},{"s":"PH-v-ss + DNA1","t":51.8,"a":1.125},{"s":"PH-v-ss + DNA1","t":52.5,"a":1.133},{"s":"PH-v-ss + DNA1","t":53.5,"a":1.141},{"s":"PH-v-ss + DNA1","t":54.8,"a":1.147},{"s":"PH-v-ss + DNA1","t":56,"a":1.153},{"s":"PH-v-ss + DNA1","t":57.7,"a":1.16},{"s":"PH-v-ss + DNA1","t":59.5,"a":1.164},{"s":"PH-v-ss + DNA1","t":61.7,"a":1.166},{"s":"PH-v-ss + DNA1","t":63.5,"a":1.168},{"s":"PH-v-ss + DNA1","t":65.2,"a":1.17},{"s":"PH-v-ss + DNA1","t":67.5,"a":1.175},{"s":"PH-v-ss + DNA1","t":69.5,"a":1.178},{"s":"PH-v-ss + DNA1","t":72,"a":1.18},{"s":"PH-v-ss + DNA1","t":74.1,"a":1.181},{"s":"PH-v-ss + DNA1","t":76,"a":1.183},{"s":"PH-v-ss + DNA1","t":78.3,"a":1.186},{"s":"PH-v-ss + DNA1","t":80.5,"a":1.189},{"s":"PH-v-ss + DNA1","t":82.5,"a":1.192},{"s":"PH-v-ss + DNA1","t":85,"a":1.195},{"s":"PH-v-ss + DNA1","t":87.1,"a":1.197},{"s":"PH-v-ss + DNA1","t":89,"a":1.198},{"s":"PH-v-ss + DNA1","t":91.4,"a":1.2},{"s":"PH-v-ss + DNA1","t":93,"a":1.201},
{"s":"PH-v-ss + DNA2","t":20,"a":1.0},{"s":"PH-v-ss + DNA2","t":22,"a":1.001},{"s":"PH-v-ss + DNA2","t":24,"a":1.001},{"s":"PH-v-ss + DNA2","t":26,"a":1.002},{"s":"PH-v-ss + DNA2","t":28,"a":1.004},{"s":"PH-v-ss + DNA2","t":30,"a":1.006},{"s":"PH-v-ss + DNA2","t":32.7,"a":1.012},{"s":"PH-v-ss + DNA2","t":34,"a":1.02},{"s":"PH-v-ss + DNA2","t":35.5,"a":1.028},{"s":"PH-v-ss + DNA2","t":37.5,"a":1.033},{"s":"PH-v-ss + DNA2","t":39.8,"a":1.038},{"s":"PH-v-ss + DNA2","t":42,"a":1.042},{"s":"PH-v-ss + DNA2","t":44,"a":1.047},{"s":"PH-v-ss + DNA2","t":46,"a":1.051},{"s":"PH-v-ss + DNA2","t":48.3,"a":1.055},{"s":"PH-v-ss + DNA2","t":50.5,"a":1.059},{"s":"PH-v-ss + DNA2","t":52.9,"a":1.063},{"s":"PH-v-ss + DNA2","t":55,"a":1.067},{"s":"PH-v-ss + DNA2","t":56.7,"a":1.071},{"s":"PH-v-ss + DNA2","t":58.5,"a":1.074},{"s":"PH-v-ss + DNA2","t":60.6,"a":1.078},{"s":"PH-v-ss + DNA2","t":63,"a":1.082},{"s":"PH-v-ss + DNA2","t":64.9,"a":1.085},{"s":"PH-v-ss + DNA2","t":67,"a":1.089},{"s":"PH-v-ss + DNA2","t":68.8,"a":1.092},{"s":"PH-v-ss + DNA2","t":70.5,"a":1.094},{"s":"PH-v-ss + DNA2","t":72.3,"a":1.097},{"s":"PH-v-ss + DNA2","t":74,"a":1.1},{"s":"PH-v-ss + DNA2","t":76.2,"a":1.103},{"s":"PH-v-ss + DNA2","t":78,"a":1.107},{"s":"PH-v-ss + DNA2","t":80.4,"a":1.111},{"s":"PH-v-ss + DNA2","t":82.5,"a":1.114},{"s":"PH-v-ss + DNA2","t":84.7,"a":1.117},{"s":"PH-v-ss + DNA2","t":86.8,"a":1.121},{"s":"PH-v-ss + DNA2","t":88.9,"a":1.124},{"s":"PH-v-ss + DNA2","t":91,"a":1.127},{"s":"PH-v-ss + DNA2","t":93.9,"a":1.13},
{"s":"PH-v-ss + IR-1","t":20,"a":1.005},{"s":"PH-v-ss + IR-1","t":22.5,"a":1.016},{"s":"PH-v-ss + IR-1","t":24.9,"a":1.0256},{"s":"PH-v-ss + IR-1","t":26.5,"a":1.032},{"s":"PH-v-ss + IR-1","t":28.5,"a":1.038},{"s":"PH-v-ss + IR-1","t":30,"a":1.042},{"s":"PH-v-ss + IR-1","t":32,"a":1.046},{"s":"PH-v-ss + IR-1","t":34,"a":1.051},{"s":"PH-v-ss + IR-1","t":36.3,"a":1.057},{"s":"PH-v-ss + IR-1","t":38.5,"a":1.06},{"s":"PH-v-ss + IR-1","t":40.5,"a":1.063},{"s":"PH-v-ss + IR-1","t":42.5,"a":1.066},{"s":"PH-v-ss + IR-1","t":44.7,"a":1.068},{"s":"PH-v-ss + IR-1","t":46.5,"a":1.072},{"s":"PH-v-ss + IR-1","t":48.6,"a":1.078},{"s":"PH-v-ss + IR-1","t":50.5,"a":1.081},{"s":"PH-v-ss + IR-1","t":52.9,"a":1.083},{"s":"PH-v-ss + IR-1","t":55,"a":1.085},{"s":"PH-v-ss + IR-1","t":57.1,"a":1.087},{"s":"PH-v-ss + IR-1","t":59,"a":1.09},{"s":"PH-v-ss + IR-1","t":61.3,"a":1.094},{"s":"PH-v-ss + IR-1","t":63.5,"a":1.097},{"s":"PH-v-ss + IR-1","t":65.6,"a":1.1},{"s":"PH-v-ss + IR-1","t":67.5,"a":1.103},{"s":"PH-v-ss + IR-1","t":69.5,"a":1.107},{"s":"PH-v-ss + IR-1","t":71.5,"a":1.11},{"s":"PH-v-ss + IR-1","t":73.4,"a":1.114},{"s":"PH-v-ss + IR-1","t":75.5,"a":1.116},{"s":"PH-v-ss + IR-1","t":77.2,"a":1.117},{"s":"PH-v-ss + IR-1","t":79,"a":1.12},{"s":"PH-v-ss + IR-1","t":81.1,"a":1.123},{"s":"PH-v-ss + IR-1","t":83,"a":1.125},{"s":"PH-v-ss + IR-1","t":85.4,"a":1.127},{"s":"PH-v-ss + IR-1","t":87.5,"a":1.13},{"s":"PH-v-ss + IR-1","t":90,"a":1.132},{"s":"PH-v-ss + IR-1","t":92,"a":1.135},{"s":"PH-v-ss + IR-1","t":93.9,"a":1.139}
]
},
"concat":[
{"width":451,"height":367,
 "title":{"text":"A","anchor":"start","frame":"group","orient":"top","font":"Liberation Sans","fontSize":27,"fontWeight":"bold","color":"black","baseline":"alphabetic","offset":0,"dx":-76,"dy":60},
 "layer":[
  {"data":{"values":[{}]},"mark":{"type":"rule","strokeWidth":2,"color":"black"},"encoding":{"y":{"datum":0,"type":"quantitative","scale":{"domain":[-30,20],"nice":false,"zero":false},"axis":null}}},
  {"data":{"name":"ctrl"},"mark":{"type":"line","strokeWidth":3.8,"strokeCap":"round","strokeJoin":"round","interpolate":"monotone"},
   "encoding":{
    "x":{"field":"x","type":"quantitative","scale":{"domain":[190,330],"nice":false,"zero":false},"axis":{"orient":"bottom","values":[190,200,210,220,230,240,250,260,270,280,290,300,310,320,330],"labelExpr":"(datum.value-200)%20===0 ? ''+datum.value : ''","tickSize":{"condition":{"test":"(datum.value-200)%20===0","value":8},"value":4.5},"title":"Długość fali (nm)","titleFont":"Open Sans","titleFontSize":21,"titlePadding":17}},
    "y":{"field":"y","type":"quantitative","scale":{"domain":[-30,20],"nice":false,"zero":false},"axis":{"orient":"left","values":[-30,-25,-20,-15,-10,-5,0,5,10,15,20],"labelExpr":"datum.value%10===0 ? ''+datum.value : ''","tickSize":{"condition":{"test":"datum.value%10===0","value":8},"value":4.5},"title":"CD (mdeg)","titleFont":"Liberation Sans","titleFontSize":22,"titlePadding":10}},
    "color":{"field":"s","type":"nominal","scale":{"domain":["DNA1","DNA2","P5","IR-1","PH-v","PH-v + DNA1","PH-v + DNA2","PH-v + P5","PH-v + IR-1"],"range":["#000000","#ee4a2c","#5db646","#4a2c8a","#8fd4c9","#000000","#ee4a2c","#5db646","#4a2c8a"]},"legend":{"orient":"none","legendX":246,"legendY":185.2,"title":null,"symbolType":"M0,0H7","symbolSize":100,"symbolStrokeWidth":4.5,"labelFont":"Liberation Sans","labelFontSize":14.5,"labelFontWeight":"bold","labelColor":"black","labelOffset":32.5,"labelLimit":400,"rowPadding":0.2,"padding":0,"encode":{"symbols":{"update":{"strokeCap":{"value":"round"}}}}}},
    "strokeDash":{"field":"s","type":"nominal","scale":{"domain":["DNA1","DNA2","P5","IR-1","PH-v","PH-v + DNA1","PH-v + DNA2","PH-v + P5","PH-v + IR-1"],"range":[[1,0],[1,0],[1,0],[1,0],[1,0],[2,14],[2,14],[2,14],[2,14]]},"legend":{"orient":"none","legendX":246,"legendY":185.2,"title":null,"symbolType":"M0,0H7","symbolSize":100,"symbolStrokeWidth":4.5,"labelFont":"Liberation Sans","labelFontSize":14.5,"labelFontWeight":"bold","labelColor":"black","labelOffset":32.5,"labelLimit":400,"rowPadding":0.2,"padding":0,"encode":{"symbols":{"update":{"strokeCap":{"value":"round"}}}}}}
   }},
  {"data":{"name":"A"},"mark":{"type":"line","strokeWidth":3.8,"strokeCap":"round","strokeJoin":"round","interpolate":"monotone"},
   "encoding":{
    "x":{"field":"x","type":"quantitative","scale":{"domain":[190,330],"nice":false,"zero":false},"axis":{"orient":"bottom","offset":-367,"values":[190,200,210,220,230,240,250,260,270,280,290,300,310,320,330],"labels":false,"title":null,"tickSize":{"condition":{"test":"(datum.value-200)%20===0","value":8},"value":4.5}}},
    "y":{"field":"y","type":"quantitative","scale":{"domain":[-30,20],"nice":false,"zero":false},"axis":{"orient":"left","offset":-451,"values":[-30,-25,-20,-15,-10,-5,0,5,10,15,20],"labels":false,"title":null,"tickSize":{"condition":{"test":"datum.value%10===0","value":8},"value":4.5}}},
    "color":{"field":"s","type":"nominal","scale":{"domain":["DNA1","DNA2","P5","IR-1","PH-v","PH-v + DNA1","PH-v + DNA2","PH-v + P5","PH-v + IR-1"],"range":["#000000","#ee4a2c","#5db646","#4a2c8a","#8fd4c9","#000000","#ee4a2c","#5db646","#4a2c8a"]}},
    "strokeDash":{"field":"s","type":"nominal","scale":{"domain":["DNA1","DNA2","P5","IR-1","PH-v","PH-v + DNA1","PH-v + DNA2","PH-v + P5","PH-v + IR-1"],"range":[[1,0],[1,0],[1,0],[1,0],[1,0],[2,14],[2,14],[2,14],[2,14]]}}
   }},
  {"data":{"values":[{}]},"mark":{"type":"text","align":"left","baseline":"middle","font":"Liberation Sans","fontSize":18.5,"color":"black"},"encoding":{"x":{"datum":198,"type":"quantitative","scale":{"domain":[190,330],"nice":false,"zero":false},"axis":null},"y":{"datum":17.3,"type":"quantitative","scale":{"domain":[-30,20],"nice":false,"zero":false},"axis":null},"text":{"value":"100 mM NaCl, 10 mM\u00a0 fosforan sodu, pH 7.5"}}}
 ],
 "resolve":{"axis":{"x":"independent","y":"independent"}}
},
{"width":451,"height":367,
 "title":{"text":"B","anchor":"start","frame":"group","orient":"top","font":"Liberation Sans","fontSize":27,"fontWeight":"bold","color":"black","baseline":"alphabetic","offset":0,"dx":-72,"dy":56},
 "layer":[
  {"data":{"values":[{}]},"mark":{"type":"rule","strokeWidth":2,"color":"black"},"encoding":{"y":{"datum":0,"type":"quantitative","scale":{"domain":[-30,20],"nice":false,"zero":false},"axis":null}}},
  {"data":{"name":"ctrl"},"mark":{"type":"line","strokeWidth":3.8,"strokeCap":"round","strokeJoin":"round","interpolate":"monotone"},
   "encoding":{
    "x":{"field":"x","type":"quantitative","scale":{"domain":[190,330],"nice":false,"zero":false},"axis":{"orient":"bottom","values":[190,200,210,220,230,240,250,260,270,280,290,300,310,320,330],"labelExpr":"(datum.value-200)%20===0 ? ''+datum.value : ''","tickSize":{"condition":{"test":"(datum.value-200)%20===0","value":8},"value":4.5},"title":"Długość fali (nm)","titleFont":"Open Sans","titleFontSize":21,"titlePadding":17}},
    "y":{"field":"y","type":"quantitative","scale":{"domain":[-30,20],"nice":false,"zero":false},"axis":{"orient":"left","values":[-30,-25,-20,-15,-10,-5,0,5,10,15,20],"labelExpr":"datum.value%10===0 ? ''+datum.value : ''","tickSize":{"condition":{"test":"datum.value%10===0","value":8},"value":4.5},"title":"CD (mdeg)","titleFont":"Liberation Sans","titleFontSize":22,"titlePadding":10}},
    "color":{"field":"s","type":"nominal","scale":{"domain":["DNA1","DNA2","P5","IR-1","rHP1","rHP1 + DNA1","rHP1 + DNA2","rHP1 + P5","rHP1 + IR-1"],"range":["#000000","#ee4a2c","#5db646","#4a2c8a","#8fd4c9","#000000","#ee4a2c","#5db646","#4a2c8a"]},"legend":{"orient":"none","legendX":248.5,"legendY":185.2,"title":null,"symbolType":"M0,0H7","symbolSize":100,"symbolStrokeWidth":4.5,"labelFont":"Liberation Sans","labelFontSize":14.5,"labelFontWeight":"bold","labelColor":"black","labelOffset":32.5,"labelLimit":400,"rowPadding":0.2,"padding":0,"encode":{"symbols":{"update":{"strokeCap":{"value":"round"}}}}}},
    "strokeDash":{"field":"s","type":"nominal","scale":{"domain":["DNA1","DNA2","P5","IR-1","rHP1","rHP1 + DNA1","rHP1 + DNA2","rHP1 + P5","rHP1 + IR-1"],"range":[[1,0],[1,0],[1,0],[1,0],[1,0],[2,14],[2,14],[2,14],[2,14]]},"legend":{"orient":"none","legendX":248.5,"legendY":185.2,"title":null,"symbolType":"M0,0H7","symbolSize":100,"symbolStrokeWidth":4.5,"labelFont":"Liberation Sans","labelFontSize":14.5,"labelFontWeight":"bold","labelColor":"black","labelOffset":32.5,"labelLimit":400,"rowPadding":0.2,"padding":0,"encode":{"symbols":{"update":{"strokeCap":{"value":"round"}}}}}}
   }},
  {"data":{"name":"B"},"mark":{"type":"line","strokeWidth":3.8,"strokeCap":"round","strokeJoin":"round","interpolate":"monotone"},
   "encoding":{
    "x":{"field":"x","type":"quantitative","scale":{"domain":[190,330],"nice":false,"zero":false},"axis":{"orient":"bottom","offset":-367,"values":[190,200,210,220,230,240,250,260,270,280,290,300,310,320,330],"labels":false,"title":null,"tickSize":{"condition":{"test":"(datum.value-200)%20===0","value":8},"value":4.5}}},
    "y":{"field":"y","type":"quantitative","scale":{"domain":[-30,20],"nice":false,"zero":false},"axis":{"orient":"left","offset":-451,"values":[-30,-25,-20,-15,-10,-5,0,5,10,15,20],"labels":false,"title":null,"tickSize":{"condition":{"test":"datum.value%10===0","value":8},"value":4.5}}},
    "color":{"field":"s","type":"nominal","scale":{"domain":["DNA1","DNA2","P5","IR-1","rHP1","rHP1 + DNA1","rHP1 + DNA2","rHP1 + P5","rHP1 + IR-1"],"range":["#000000","#ee4a2c","#5db646","#4a2c8a","#8fd4c9","#000000","#ee4a2c","#5db646","#4a2c8a"]}},
    "strokeDash":{"field":"s","type":"nominal","scale":{"domain":["DNA1","DNA2","P5","IR-1","rHP1","rHP1 + DNA1","rHP1 + DNA2","rHP1 + P5","rHP1 + IR-1"],"range":[[1,0],[1,0],[1,0],[1,0],[1,0],[2,14],[2,14],[2,14],[2,14]]}}
   }},
  {"data":{"values":[{}]},"mark":{"type":"text","align":"left","baseline":"middle","font":"Liberation Sans","fontSize":18.5,"color":"black"},"encoding":{"x":{"datum":198,"type":"quantitative","scale":{"domain":[190,330],"nice":false,"zero":false},"axis":null},"y":{"datum":17.3,"type":"quantitative","scale":{"domain":[-30,20],"nice":false,"zero":false},"axis":null},"text":{"value":"100 mM NaCl, 10 mM\u00a0 fosforan sodu, pH 7.5"}}}
 ],
 "resolve":{"axis":{"x":"independent","y":"independent"}}
},
{"width":451,"height":367,
 "title":{"text":"C","anchor":"start","frame":"group","orient":"top","font":"Liberation Sans","fontSize":27,"fontWeight":"bold","color":"black","baseline":"alphabetic","offset":0,"dx":-76,"dy":62},
 "layer":[
  {"data":{"values":[{}]},"mark":{"type":"rule","strokeWidth":2,"color":"black"},"encoding":{"y":{"datum":0,"type":"quantitative","scale":{"domain":[-30,20],"nice":false,"zero":false},"axis":null}}},
  {"data":{"name":"ctrl"},"mark":{"type":"line","strokeWidth":3.8,"strokeCap":"round","strokeJoin":"round","interpolate":"monotone"},
   "encoding":{
    "x":{"field":"x","type":"quantitative","scale":{"domain":[190,330],"nice":false,"zero":false},"axis":{"orient":"bottom","values":[190,200,210,220,230,240,250,260,270,280,290,300,310,320,330],"labelExpr":"(datum.value-200)%20===0 ? ''+datum.value : ''","tickSize":{"condition":{"test":"(datum.value-200)%20===0","value":8},"value":4.5},"title":"Długość fali (nm)","titleFont":"Open Sans","titleFontSize":21,"titlePadding":15}},
    "y":{"field":"y","type":"quantitative","scale":{"domain":[-30,20],"nice":false,"zero":false},"axis":{"orient":"left","values":[-30,-25,-20,-15,-10,-5,0,5,10,15,20],"labelExpr":"datum.value%10===0 ? ''+datum.value : ''","tickSize":{"condition":{"test":"datum.value%10===0","value":8},"value":4.5},"title":"CD (mdeg)","titleFont":"Liberation Sans","titleFontSize":22,"titlePadding":10}},
    "color":{"field":"s","type":"nominal","scale":{"domain":["DNA1","DNA2","P5","IR-1","PH-c-Cy3","PH-c-Cy3 + DNA1","PH-c-Cy3 + DNA2","PH-c-Cy3 + P5","PH-c-Cy3 + IR-1"],"range":["#000000","#ee4a2c","#5db646","#4a2c8a","#8fd4c9","#000000","#ee4a2c","#5db646","#4a2c8a"]},"legend":{"orient":"none","legendX":247.5,"legendY":181.5,"title":null,"symbolType":"M0,0H7","symbolSize":100,"symbolStrokeWidth":4.5,"labelFont":"Liberation Sans","labelFontSize":14.5,"labelFontWeight":"bold","labelColor":"black","labelOffset":32.5,"labelLimit":400,"rowPadding":0.2,"padding":0,"encode":{"symbols":{"update":{"strokeCap":{"value":"round"}}}}}},
    "strokeDash":{"field":"s","type":"nominal","scale":{"domain":["DNA1","DNA2","P5","IR-1","PH-c-Cy3","PH-c-Cy3 + DNA1","PH-c-Cy3 + DNA2","PH-c-Cy3 + P5","PH-c-Cy3 + IR-1"],"range":[[1,0],[1,0],[1,0],[1,0],[1,0],[2,14],[2,14],[2,14],[2,14]]},"legend":{"orient":"none","legendX":247.5,"legendY":181.5,"title":null,"symbolType":"M0,0H7","symbolSize":100,"symbolStrokeWidth":4.5,"labelFont":"Liberation Sans","labelFontSize":14.5,"labelFontWeight":"bold","labelColor":"black","labelOffset":32.5,"labelLimit":400,"rowPadding":0.2,"padding":0,"encode":{"symbols":{"update":{"strokeCap":{"value":"round"}}}}}}
   }},
  {"data":{"name":"C"},"mark":{"type":"line","strokeWidth":3.8,"strokeCap":"round","strokeJoin":"round","interpolate":"monotone"},
   "encoding":{
    "x":{"field":"x","type":"quantitative","scale":{"domain":[190,330],"nice":false,"zero":false},"axis":{"orient":"bottom","offset":-367,"values":[190,200,210,220,230,240,250,260,270,280,290,300,310,320,330],"labels":false,"title":null,"tickSize":{"condition":{"test":"(datum.value-200)%20===0","value":8},"value":4.5}}},
    "y":{"field":"y","type":"quantitative","scale":{"domain":[-30,20],"nice":false,"zero":false},"axis":{"orient":"left","offset":-451,"values":[-30,-25,-20,-15,-10,-5,0,5,10,15,20],"labels":false,"title":null,"tickSize":{"condition":{"test":"datum.value%10===0","value":8},"value":4.5}}},
    "color":{"field":"s","type":"nominal","scale":{"domain":["DNA1","DNA2","P5","IR-1","PH-c-Cy3","PH-c-Cy3 + DNA1","PH-c-Cy3 + DNA2","PH-c-Cy3 + P5","PH-c-Cy3 + IR-1"],"range":["#000000","#ee4a2c","#5db646","#4a2c8a","#8fd4c9","#000000","#ee4a2c","#5db646","#4a2c8a"]}},
    "strokeDash":{"field":"s","type":"nominal","scale":{"domain":["DNA1","DNA2","P5","IR-1","PH-c-Cy3","PH-c-Cy3 + DNA1","PH-c-Cy3 + DNA2","PH-c-Cy3 + P5","PH-c-Cy3 + IR-1"],"range":[[1,0],[1,0],[1,0],[1,0],[1,0],[2,14],[2,14],[2,14],[2,14]]}}
   }},
  {"data":{"values":[{}]},"mark":{"type":"text","align":"left","baseline":"middle","font":"Liberation Sans","fontSize":18.5,"color":"black"},"encoding":{"x":{"datum":198,"type":"quantitative","scale":{"domain":[190,330],"nice":false,"zero":false},"axis":null},"y":{"datum":17.1,"type":"quantitative","scale":{"domain":[-30,20],"nice":false,"zero":false},"axis":null},"text":{"value":"100 mM NaCl, 10 mM\u00a0 fosforan sodu, pH 7.5"}}}
 ],
 "resolve":{"axis":{"x":"independent","y":"independent"}}
},
{"width":451,"height":367,
 "title":{"text":"D","anchor":"start","frame":"group","orient":"top","font":"Liberation Sans","fontSize":27,"fontWeight":"bold","color":"black","baseline":"alphabetic","offset":0,"dx":-67,"dy":59},
 "layer":[
  {"data":{"name":"Ds"},"mark":{"type":"line","strokeWidth":3.8,"strokeCap":"round","strokeJoin":"round"},
   "encoding":{
    "x":{"field":"t","type":"quantitative","scale":{"domain":[10,100],"nice":false,"zero":false},"axis":{"orient":"bottom","values":[10,20,30,40,50,60,70,80,90,100],"labelExpr":"datum.value%20===0 ? ''+datum.value : ''","tickSize":{"condition":{"test":"datum.value%20===0","value":8},"value":4.5},"title":"Temperatura (°C)","titleFont":"Open Sans","titleFontSize":21,"titlePadding":13}},
    "y":{"field":"a","type":"quantitative","scale":{"domain":[0.975,1.225],"nice":false,"zero":false},"axis":{"orient":"left","values":[0.975,1,1.025,1.05,1.075,1.1,1.125,1.15,1.175,1.2,1.225],"labelExpr":"round(datum.value*40)%2===0 ? format(datum.value,'.2f') : ''","tickSize":{"condition":{"test":"round(datum.value*40)%2===0","value":8},"value":4.5},"title":"Znormalizowana  A₂₆₀","titleFont":"Open Sans","titleFontSize":22.5,"titlePadding":5,"titleY":208}},
    "color":{"field":"s","type":"nominal","scale":{"domain":["PH-v-ss","DNA1","DNA2","IR-1","PH-v-ss + DNA1","PH-v-ss + DNA2","PH-v-ss + IR-1"],"range":["#000000","#ee4a2c","#5db646","#4a2c8a","#ee4a2c","#5db646","#4a2c8a"]},"legend":{"orient":"none","legendX":4.5,"legendY":35.5,"title":null,"symbolType":"M0,0H8.2","symbolSize":100,"symbolStrokeWidth":4.5,"labelFont":"Liberation Sans","labelFontSize":15,"labelFontWeight":"bold","labelColor":"black","labelOffset":36.5,"labelLimit":400,"rowPadding":2.6,"padding":0,"encode":{"symbols":{"update":{"strokeCap":{"value":"round"}}}}}},
    "strokeDash":{"field":"s","type":"nominal","scale":{"domain":["PH-v-ss","DNA1","DNA2","IR-1","PH-v-ss + DNA1","PH-v-ss + DNA2","PH-v-ss + IR-1"],"range":[[1,0],[1,0],[1,0],[1,0],[2,14],[2,14],[2,14]]},"legend":{"orient":"none","legendX":4.5,"legendY":35.5,"title":null,"symbolType":"M0,0H8.2","symbolSize":100,"symbolStrokeWidth":4.5,"labelFont":"Liberation Sans","labelFontSize":15,"labelFontWeight":"bold","labelColor":"black","labelOffset":36.5,"labelLimit":400,"rowPadding":2.6,"padding":0,"encode":{"symbols":{"update":{"strokeCap":{"value":"round"}}}}}}
   }},
  {"data":{"name":"Dd"},"mark":{"type":"line","strokeWidth":3.8,"strokeCap":"round","strokeJoin":"round","interpolate":"monotone"},
   "encoding":{
    "x":{"field":"t","type":"quantitative","scale":{"domain":[10,100],"nice":false,"zero":false},"axis":{"orient":"bottom","offset":-367,"values":[10,20,30,40,50,60,70,80,90,100],"labels":false,"title":null,"tickSize":{"condition":{"test":"datum.value%20===0","value":8},"value":4.5}}},
    "y":{"field":"a","type":"quantitative","scale":{"domain":[0.975,1.225],"nice":false,"zero":false},"axis":{"orient":"left","offset":-451,"values":[0.975,1,1.025,1.05,1.075,1.1,1.125,1.15,1.175,1.2,1.225],"labels":false,"title":null,"tickSize":{"condition":{"test":"round(datum.value*40)%2===0","value":8},"value":4.5}}},
    "color":{"field":"s","type":"nominal","scale":{"domain":["PH-v-ss","DNA1","DNA2","IR-1","PH-v-ss + DNA1","PH-v-ss + DNA2","PH-v-ss + IR-1"],"range":["#000000","#ee4a2c","#5db646","#4a2c8a","#ee4a2c","#5db646","#4a2c8a"]}},
    "strokeDash":{"field":"s","type":"nominal","scale":{"domain":["PH-v-ss","DNA1","DNA2","IR-1","PH-v-ss + DNA1","PH-v-ss + DNA2","PH-v-ss + IR-1"],"range":[[1,0],[1,0],[1,0],[1,0],[2,14],[2,14],[2,14]]}}
   }},
  {"data":{"values":[{}]},"mark":{"type":"text","align":"left","baseline":"middle","font":"Liberation Sans","fontSize":16,"color":"black"},"encoding":{"x":{"datum":12.1,"type":"quantitative","scale":{"domain":[10,100],"nice":false,"zero":false},"axis":null},"y":{"datum":1.2141,"type":"quantitative","scale":{"domain":[0.975,1.225],"nice":false,"zero":false},"axis":null},"text":{"value":"200 mM NaCl, 0.5 mM EDTA., 20 mM HEPES, pH 7.5"}}},
  {"data":{"values":[{}]},"mark":{"type":"text","align":"left","baseline":"middle","font":"Liberation Sans","fontSize":18.5,"fontStyle":"italic","color":"#ee4a2c"},"encoding":{"x":{"datum":21.2,"type":"quantitative","scale":{"domain":[10,100],"nice":false,"zero":false},"axis":null},"y":{"datum":1.0963,"type":"quantitative","scale":{"domain":[0.975,1.225],"nice":false,"zero":false},"axis":null},"text":{"value":"T"}}},
  {"data":{"values":[{}]},"mark":{"type":"text","align":"left","baseline":"middle","font":"Liberation Sans","fontSize":12,"dx":11,"dy":7,"color":"#ee4a2c"},"encoding":{"x":{"datum":21.2,"type":"quantitative","scale":{"domain":[10,100],"nice":false,"zero":false},"axis":null},"y":{"datum":1.0963,"type":"quantitative","scale":{"domain":[0.975,1.225],"nice":false,"zero":false},"axis":null},"text":{"value":"m"}}},
  {"data":{"values":[{}]},"mark":{"type":"text","align":"left","baseline":"middle","font":"Liberation Sans","fontSize":18.5,"dx":20,"color":"#ee4a2c"},"encoding":{"x":{"datum":21.2,"type":"quantitative","scale":{"domain":[10,100],"nice":false,"zero":false},"axis":null},"y":{"datum":1.0963,"type":"quantitative","scale":{"domain":[0.975,1.225],"nice":false,"zero":false},"axis":null},"text":{"value":": 49.1 ± 0.2 °C"}}}
 ],
 "resolve":{"axis":{"x":"independent","y":"independent"}}
}
]
}
